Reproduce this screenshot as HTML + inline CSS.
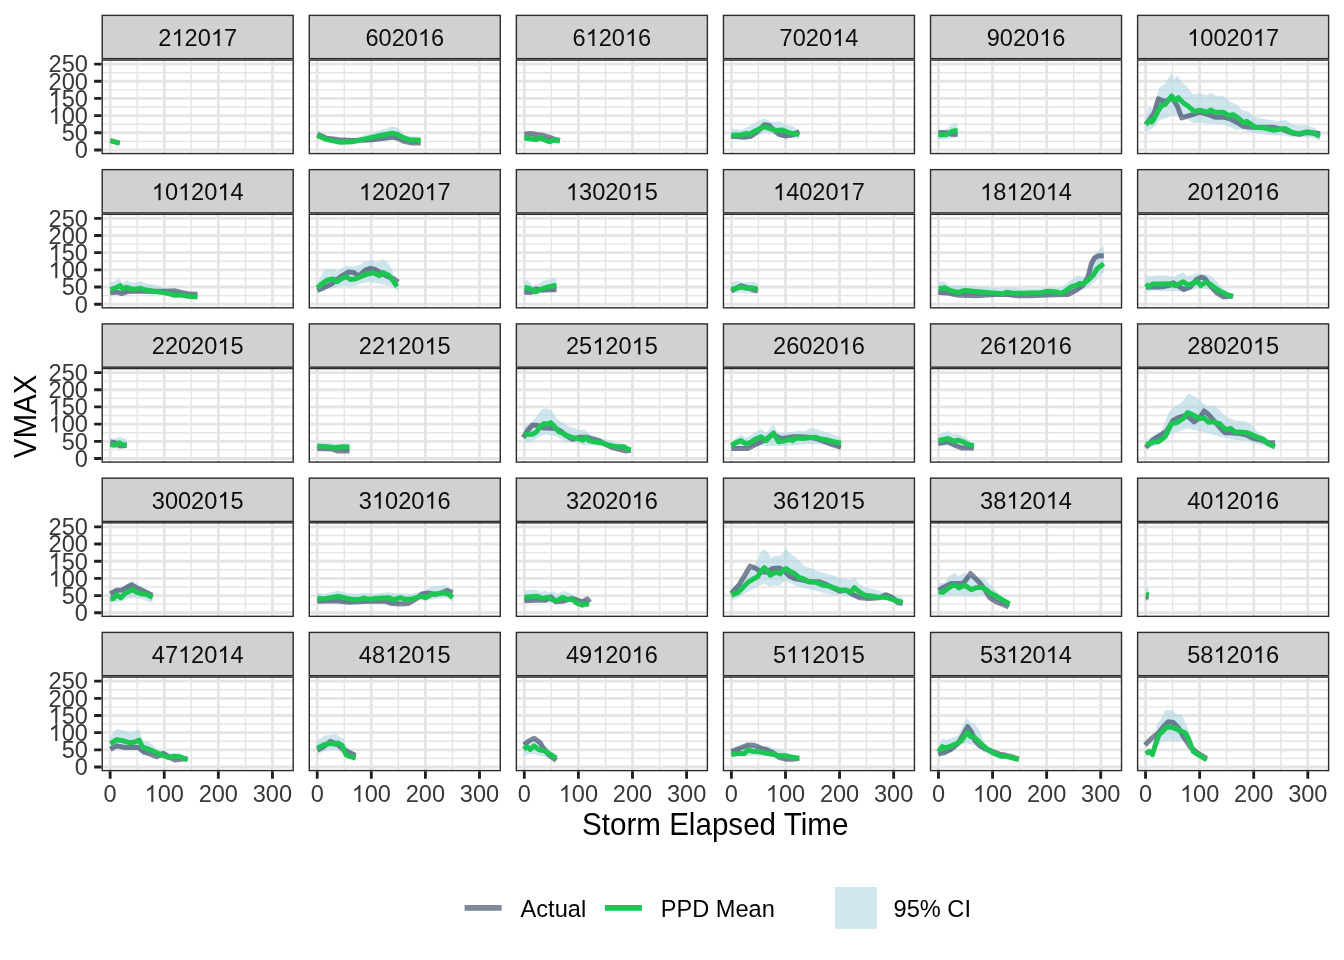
<!DOCTYPE html><html><head><meta charset="utf-8"><style>html,body{margin:0;padding:0;background:#fff;width:1344px;height:960px;overflow:hidden}svg{display:block;will-change:transform}text{font-family:"Liberation Sans", sans-serif}</style></head><body>
<svg width="1344" height="960" viewBox="0 0 1344 960">
<rect width="1344" height="960" fill="#fff"/>
<defs>
<clipPath id="p00"><rect x="101.5" y="59.35" width="192.42" height="94.92"/></clipPath>
<clipPath id="p01"><rect x="308.58" y="59.35" width="192.42" height="94.92"/></clipPath>
<clipPath id="p02"><rect x="515.66" y="59.35" width="192.42" height="94.92"/></clipPath>
<clipPath id="p03"><rect x="722.74" y="59.35" width="192.42" height="94.92"/></clipPath>
<clipPath id="p04"><rect x="929.82" y="59.35" width="192.42" height="94.92"/></clipPath>
<clipPath id="p05"><rect x="1136.9" y="59.35" width="192.42" height="94.92"/></clipPath>
<clipPath id="p10"><rect x="101.5" y="213.61" width="192.42" height="94.92"/></clipPath>
<clipPath id="p11"><rect x="308.58" y="213.61" width="192.42" height="94.92"/></clipPath>
<clipPath id="p12"><rect x="515.66" y="213.61" width="192.42" height="94.92"/></clipPath>
<clipPath id="p13"><rect x="722.74" y="213.61" width="192.42" height="94.92"/></clipPath>
<clipPath id="p14"><rect x="929.82" y="213.61" width="192.42" height="94.92"/></clipPath>
<clipPath id="p15"><rect x="1136.9" y="213.61" width="192.42" height="94.92"/></clipPath>
<clipPath id="p20"><rect x="101.5" y="367.87" width="192.42" height="94.92"/></clipPath>
<clipPath id="p21"><rect x="308.58" y="367.87" width="192.42" height="94.92"/></clipPath>
<clipPath id="p22"><rect x="515.66" y="367.87" width="192.42" height="94.92"/></clipPath>
<clipPath id="p23"><rect x="722.74" y="367.87" width="192.42" height="94.92"/></clipPath>
<clipPath id="p24"><rect x="929.82" y="367.87" width="192.42" height="94.92"/></clipPath>
<clipPath id="p25"><rect x="1136.9" y="367.87" width="192.42" height="94.92"/></clipPath>
<clipPath id="p30"><rect x="101.5" y="522.13" width="192.42" height="94.92"/></clipPath>
<clipPath id="p31"><rect x="308.58" y="522.13" width="192.42" height="94.92"/></clipPath>
<clipPath id="p32"><rect x="515.66" y="522.13" width="192.42" height="94.92"/></clipPath>
<clipPath id="p33"><rect x="722.74" y="522.13" width="192.42" height="94.92"/></clipPath>
<clipPath id="p34"><rect x="929.82" y="522.13" width="192.42" height="94.92"/></clipPath>
<clipPath id="p35"><rect x="1136.9" y="522.13" width="192.42" height="94.92"/></clipPath>
<clipPath id="p40"><rect x="101.5" y="676.39" width="192.42" height="94.92"/></clipPath>
<clipPath id="p41"><rect x="308.58" y="676.39" width="192.42" height="94.92"/></clipPath>
<clipPath id="p42"><rect x="515.66" y="676.39" width="192.42" height="94.92"/></clipPath>
<clipPath id="p43"><rect x="722.74" y="676.39" width="192.42" height="94.92"/></clipPath>
<clipPath id="p44"><rect x="929.82" y="676.39" width="192.42" height="94.92"/></clipPath>
<clipPath id="p45"><rect x="1136.9" y="676.39" width="192.42" height="94.92"/></clipPath>
</defs>
<g clip-path="url(#p00)">
<path d="M137.19 59.35V154.27M191.29 59.35V154.27M245.38 59.35V154.27M101.5 141.37H293.92M101.5 124.2H293.92M101.5 107.02H293.92M101.5 89.84H293.92M101.5 72.67H293.92" stroke="#E5E5E5" stroke-width="1.42" fill="none"/>
<path d="M110.15 59.35V154.27M164.24 59.35V154.27M218.33 59.35V154.27M272.42 59.35V154.27M101.5 149.96H293.92M101.5 132.78H293.92M101.5 115.61H293.92M101.5 98.43H293.92M101.5 81.26H293.92M101.5 64.08H293.92" stroke="#E5E5E5" stroke-width="2.84" fill="none"/>
<path d="M110.33 138.67 L119.67 141.17 L119.67 144.83 L110.33 142.33Z" fill="#AFD5E3" fill-opacity="0.6"/>
<path d="M110.33 140.67 L119.67 143.17" fill="none" stroke="#182749" stroke-opacity="0.55" stroke-width="5.0" stroke-linejoin="round" stroke-linecap="butt"/>
<path d="M110.33 140.67 L119.67 143.17" fill="none" stroke="#1DC653" stroke-width="5.0" stroke-linejoin="round" stroke-linecap="butt"/>
</g>
<rect x="102.21" y="60.06" width="191" height="93.5" fill="none" stroke="#2D2D2D" stroke-width="1.42"/>
<rect x="102.21" y="15.38" width="191" height="43.26" fill="#D1D1D1" stroke="#2D2D2D" stroke-width="1.42"/>
<text transform="translate(158.33 45.96) scale(1 1.04)" font-size="23.6" fill="#0D0D0D">2 20 7</text><path transform="translate(171.46 45.96) scale(0.011523 -0.011523)" d="M763 0h-180v1147q-65-62-170.5-124t-189.5-93v174q151 71 264 172t160 196h116z" fill="#0D0D0D"/><path transform="translate(210.84 45.96) scale(0.011523 -0.011523)" d="M763 0h-180v1147q-65-62-170.5-124t-189.5-93v174q151 71 264 172t160 196h116z" fill="#0D0D0D"/>
<g clip-path="url(#p01)">
<path d="M344.28 59.35V154.27M398.37 59.35V154.27M452.46 59.35V154.27M308.58 141.37H501M308.58 124.2H501M308.58 107.02H501M308.58 89.84H501M308.58 72.67H501" stroke="#E5E5E5" stroke-width="1.42" fill="none"/>
<path d="M317.23 59.35V154.27M371.32 59.35V154.27M425.41 59.35V154.27M479.5 59.35V154.27M308.58 149.96H501M308.58 132.78H501M308.58 115.61H501M308.58 98.43H501M308.58 81.26H501M308.58 64.08H501" stroke="#E5E5E5" stroke-width="2.84" fill="none"/>
<path d="M317.33 129.67 L327 136.33 L339.5 138.83 L355.33 138 L372 133 L392 126.33 L397.83 128 L405.33 135.5 L415.33 136.33 L420.67 137.17 L420.67 144.33 L410.33 143.83 L402 141.33 L392 139.67 L372 142.17 L352 144.33 L339.5 144.33 L317.33 138.83Z" fill="#AFD5E3" fill-opacity="0.6"/>
<path d="M317.33 134.33 L327 138.33 L339.5 139.67 L352 140.5 L372 139.67 L392 137.17 L397.83 138.33 L403.67 141.33 L412 143 L420.67 143" fill="none" stroke="#182749" stroke-opacity="0.55" stroke-width="5.0" stroke-linejoin="round" stroke-linecap="butt"/>
<path d="M317.33 135.5 L327 139.67 L339.5 142.17 L352 141.83 L365.33 138.83 L378.67 135.83 L392 133.33 L397 134.17 L402 137.17 L408.67 139.67 L420.67 140.17" fill="none" stroke="#1DC653" stroke-width="5.0" stroke-linejoin="round" stroke-linecap="butt"/>
</g>
<rect x="309.29" y="60.06" width="191" height="93.5" fill="none" stroke="#2D2D2D" stroke-width="1.42"/>
<rect x="309.29" y="15.38" width="191" height="43.26" fill="#D1D1D1" stroke="#2D2D2D" stroke-width="1.42"/>
<text transform="translate(365.41 45.96) scale(1 1.04)" font-size="23.6" fill="#0D0D0D">6020 6</text><path transform="translate(417.92 45.96) scale(0.011523 -0.011523)" d="M763 0h-180v1147q-65-62-170.5-124t-189.5-93v174q151 71 264 172t160 196h116z" fill="#0D0D0D"/>
<g clip-path="url(#p02)">
<path d="M551.36 59.35V154.27M605.45 59.35V154.27M659.54 59.35V154.27M515.66 141.37H708.08M515.66 124.2H708.08M515.66 107.02H708.08M515.66 89.84H708.08M515.66 72.67H708.08" stroke="#E5E5E5" stroke-width="1.42" fill="none"/>
<path d="M524.31 59.35V154.27M578.4 59.35V154.27M632.49 59.35V154.27M686.58 59.35V154.27M515.66 149.96H708.08M515.66 132.78H708.08M515.66 115.61H708.08M515.66 98.43H708.08M515.66 81.26H708.08M515.66 64.08H708.08" stroke="#E5E5E5" stroke-width="2.84" fill="none"/>
<path d="M524.33 136 L530.67 135.5 L542.33 136.33 L559.83 138.83 L559.83 143.83 L542.33 142.17 L524.33 141.33Z" fill="#AFD5E3" fill-opacity="0.6"/>
<path d="M524.33 134.33 L530.67 133.5 L537.33 134.67 L542.33 135.17 L549 137.17 L554 138.83 L559.83 140.5" fill="none" stroke="#182749" stroke-opacity="0.55" stroke-width="5.0" stroke-linejoin="round" stroke-linecap="butt"/>
<path d="M524.33 138 L530.67 138.83 L535.67 139.67 L539.83 138 L544.83 140 L549.83 141.83 L554 140 L559.83 140.83" fill="none" stroke="#1DC653" stroke-width="5.0" stroke-linejoin="round" stroke-linecap="butt"/>
</g>
<rect x="516.37" y="60.06" width="191" height="93.5" fill="none" stroke="#2D2D2D" stroke-width="1.42"/>
<rect x="516.37" y="15.38" width="191" height="43.26" fill="#D1D1D1" stroke="#2D2D2D" stroke-width="1.42"/>
<text transform="translate(572.49 45.96) scale(1 1.04)" font-size="23.6" fill="#0D0D0D">6 20 6</text><path transform="translate(585.62 45.96) scale(0.011523 -0.011523)" d="M763 0h-180v1147q-65-62-170.5-124t-189.5-93v174q151 71 264 172t160 196h116z" fill="#0D0D0D"/><path transform="translate(625 45.96) scale(0.011523 -0.011523)" d="M763 0h-180v1147q-65-62-170.5-124t-189.5-93v174q151 71 264 172t160 196h116z" fill="#0D0D0D"/>
<g clip-path="url(#p03)">
<path d="M758.43 59.35V154.27M812.52 59.35V154.27M866.62 59.35V154.27M722.74 141.37H915.16M722.74 124.2H915.16M722.74 107.02H915.16M722.74 89.84H915.16M722.74 72.67H915.16" stroke="#E5E5E5" stroke-width="1.42" fill="none"/>
<path d="M731.39 59.35V154.27M785.48 59.35V154.27M839.57 59.35V154.27M893.66 59.35V154.27M722.74 149.96H915.16M722.74 132.78H915.16M722.74 115.61H915.16M722.74 98.43H915.16M722.74 81.26H915.16M722.74 64.08H915.16" stroke="#E5E5E5" stroke-width="2.84" fill="none"/>
<path d="M731.33 128.83 L741 129.67 L749.33 126.33 L756 122.17 L764.33 118.5 L772.67 122.17 L779.33 121.33 L786 124.67 L792.67 126.33 L799.33 130.5 L799.33 139.33 L792.67 137.17 L782.67 138 L774.33 134.67 L766 132.17 L759.33 134.67 L749.33 139.33 L731.33 138.83Z" fill="#AFD5E3" fill-opacity="0.6"/>
<path d="M731.33 136.33 L744.33 137.17 L751 136.33 L757.67 131.33 L764.33 124.67 L769.33 125.5 L773.5 129.67 L779.33 134.67 L786 136 L792.67 135 L799.33 131.33" fill="none" stroke="#182749" stroke-opacity="0.55" stroke-width="5.0" stroke-linejoin="round" stroke-linecap="butt"/>
<path d="M731.33 135 L741 135 L746.83 133.5 L749.33 134.33 L756 130.5 L764.33 126.83 L771 128.83 L776 130.5 L782.67 130 L787.67 132.17 L792.67 133.83 L799.33 134.33" fill="none" stroke="#1DC653" stroke-width="5.0" stroke-linejoin="round" stroke-linecap="butt"/>
</g>
<rect x="723.45" y="60.06" width="191" height="93.5" fill="none" stroke="#2D2D2D" stroke-width="1.42"/>
<rect x="723.45" y="15.38" width="191" height="43.26" fill="#D1D1D1" stroke="#2D2D2D" stroke-width="1.42"/>
<text transform="translate(779.57 45.96) scale(1 1.04)" font-size="23.6" fill="#0D0D0D">7020 4</text><path transform="translate(832.08 45.96) scale(0.011523 -0.011523)" d="M763 0h-180v1147q-65-62-170.5-124t-189.5-93v174q151 71 264 172t160 196h116z" fill="#0D0D0D"/>
<g clip-path="url(#p04)">
<path d="M965.51 59.35V154.27M1019.61 59.35V154.27M1073.7 59.35V154.27M929.82 141.37H1122.24M929.82 124.2H1122.24M929.82 107.02H1122.24M929.82 89.84H1122.24M929.82 72.67H1122.24" stroke="#E5E5E5" stroke-width="1.42" fill="none"/>
<path d="M938.47 59.35V154.27M992.56 59.35V154.27M1046.65 59.35V154.27M1100.74 59.35V154.27M929.82 149.96H1122.24M929.82 132.78H1122.24M929.82 115.61H1122.24M929.82 98.43H1122.24M929.82 81.26H1122.24M929.82 64.08H1122.24" stroke="#E5E5E5" stroke-width="2.84" fill="none"/>
<path d="M938.33 129.67 L946.33 129.33 L953 123.83 L957.67 123 L957.67 137.17 L952.17 138 L946.33 139.33 L938.33 139.67Z" fill="#AFD5E3" fill-opacity="0.6"/>
<path d="M938.33 132.67 L946.33 132.67 L952.17 134.33 L957.67 134.33" fill="none" stroke="#182749" stroke-opacity="0.55" stroke-width="5.0" stroke-linejoin="round" stroke-linecap="butt"/>
<path d="M938.33 134.67 L946.33 134.67 L952.17 131.33 L957.67 130.5" fill="none" stroke="#1DC653" stroke-width="5.0" stroke-linejoin="round" stroke-linecap="butt"/>
</g>
<rect x="930.53" y="60.06" width="191" height="93.5" fill="none" stroke="#2D2D2D" stroke-width="1.42"/>
<rect x="930.53" y="15.38" width="191" height="43.26" fill="#D1D1D1" stroke="#2D2D2D" stroke-width="1.42"/>
<text transform="translate(986.65 45.96) scale(1 1.04)" font-size="23.6" fill="#0D0D0D">9020 6</text><path transform="translate(1039.16 45.96) scale(0.011523 -0.011523)" d="M763 0h-180v1147q-65-62-170.5-124t-189.5-93v174q151 71 264 172t160 196h116z" fill="#0D0D0D"/>
<g clip-path="url(#p05)">
<path d="M1172.6 59.35V154.27M1226.69 59.35V154.27M1280.78 59.35V154.27M1136.9 141.37H1329.32M1136.9 124.2H1329.32M1136.9 107.02H1329.32M1136.9 89.84H1329.32M1136.9 72.67H1329.32" stroke="#E5E5E5" stroke-width="1.42" fill="none"/>
<path d="M1145.55 59.35V154.27M1199.64 59.35V154.27M1253.73 59.35V154.27M1307.82 59.35V154.27M1136.9 149.96H1329.32M1136.9 132.78H1329.32M1136.9 115.61H1329.32M1136.9 98.43H1329.32M1136.9 81.26H1329.32M1136.9 64.08H1329.32" stroke="#E5E5E5" stroke-width="2.84" fill="none"/>
<path d="M1145.83 114.67 L1149.17 106.33 L1153.33 109.67 L1159.17 88 L1165 83.83 L1171.67 73 L1174.17 79.67 L1177.5 75.5 L1181.67 82.17 L1186.67 86.33 L1193.33 94.67 L1200 93 L1206.67 95.5 L1210.83 92.5 L1215 95.5 L1223.33 96.33 L1230 101.33 L1236.67 104.67 L1243.33 110.5 L1248.33 111.33 L1253.33 116.33 L1261.67 118.83 L1270 119.67 L1278.33 121.33 L1285 119.67 L1291.67 123.83 L1298.33 125.5 L1305 124.67 L1313.33 127.17 L1320 131.33 L1320 140.5 L1313.33 138 L1306.67 137.17 L1298.33 137.17 L1291.67 137.17 L1285 135.5 L1273.33 135.5 L1263.33 133.83 L1253.33 133 L1243.33 129.67 L1236.67 129.67 L1230 127.17 L1223.33 124.67 L1210 123.83 L1200 122.67 L1193.33 123 L1181.67 116.33 L1176.67 114.67 L1170 115.5 L1165 118.83 L1160 119.67 L1155 126.33 L1150 129.67 L1145.83 131.33Z" fill="#AFD5E3" fill-opacity="0.6"/>
<path d="M1145.83 124.67 L1150 118.83 L1154.17 113 L1158.33 98.83 L1161.67 100.5 L1165.83 101.33 L1170 98.83 L1173.33 99.67 L1177.5 106.33 L1181.67 118 L1186.67 116.33 L1193.33 114.33 L1200 112.17 L1208.33 114.67 L1215 117.17 L1223.33 117.17 L1230 118.83 L1236.67 122.17 L1243.33 126.33 L1251.67 127.17 L1261.67 127.17 L1273.33 127.17 L1283.33 129.67 L1291.67 133 L1300 134.17 L1306.67 132.67 L1313.33 133 L1320 133.83" fill="none" stroke="#182749" stroke-opacity="0.55" stroke-width="5.0" stroke-linejoin="round" stroke-linecap="butt"/>
<path d="M1145.83 124.33 L1149.17 120.5 L1151.67 122.17 L1154.17 118.83 L1158.33 110.5 L1161.67 105.5 L1165 104.67 L1168.33 100.5 L1171.67 96 L1175 100.5 L1178.33 97.67 L1182.5 102.17 L1188.33 106.33 L1194.17 111.33 L1200 110.17 L1206.67 112.17 L1210.83 110 L1215 112.17 L1223.33 112.17 L1228.33 115.5 L1233.33 114.67 L1238.33 118 L1243.33 122.67 L1246.67 121.33 L1255 127.17 L1265 128 L1273.33 130.17 L1285 128.5 L1291.67 132.17 L1298.33 133.83 L1306.67 131.83 L1313.33 133 L1320 136.33" fill="none" stroke="#1DC653" stroke-width="5.0" stroke-linejoin="round" stroke-linecap="butt"/>
</g>
<rect x="1137.61" y="60.06" width="191" height="93.5" fill="none" stroke="#2D2D2D" stroke-width="1.42"/>
<rect x="1137.61" y="15.38" width="191" height="43.26" fill="#D1D1D1" stroke="#2D2D2D" stroke-width="1.42"/>
<text transform="translate(1187.17 45.96) scale(1 1.04)" font-size="23.6" fill="#0D0D0D"> 0020 7</text><path transform="translate(1187.17 45.96) scale(0.011523 -0.011523)" d="M763 0h-180v1147q-65-62-170.5-124t-189.5-93v174q151 71 264 172t160 196h116z" fill="#0D0D0D"/><path transform="translate(1252.8 45.96) scale(0.011523 -0.011523)" d="M763 0h-180v1147q-65-62-170.5-124t-189.5-93v174q151 71 264 172t160 196h116z" fill="#0D0D0D"/>
<g clip-path="url(#p10)">
<path d="M137.19 213.61V308.53M191.29 213.61V308.53M245.38 213.61V308.53M101.5 295.63H293.92M101.5 278.46H293.92M101.5 261.28H293.92M101.5 244.1H293.92M101.5 226.93H293.92" stroke="#E5E5E5" stroke-width="1.42" fill="none"/>
<path d="M110.15 213.61V308.53M164.24 213.61V308.53M218.33 213.61V308.53M272.42 213.61V308.53M101.5 304.22H293.92M101.5 287.04H293.92M101.5 269.87H293.92M101.5 252.69H293.92M101.5 235.52H293.92M101.5 218.34H293.92" stroke="#E5E5E5" stroke-width="2.84" fill="none"/>
<path d="M110.33 282.83 L115 281.17 L119.17 278.67 L122.5 282.83 L126.67 280.33 L133.33 282.83 L140.83 281.17 L146.67 283.67 L153.33 284.5 L160 286.17 L166.67 288.67 L175 290.33 L185 292 L197.5 293.33 L197.5 298.33 L185 297.33 L175 296.17 L161.67 294.5 L145 293.67 L136.67 293.33 L128.33 294.5 L120 293.67 L110.33 295.33Z" fill="#AFD5E3" fill-opacity="0.6"/>
<path d="M110.33 292.83 L116.67 292 L121.67 293.67 L128.33 291.17 L136.67 291.17 L145 291.17 L155 291.17 L165 291.17 L175 290.83 L181.67 292.33 L188.33 293.67 L197.5 294.17" fill="none" stroke="#182749" stroke-opacity="0.55" stroke-width="5.0" stroke-linejoin="round" stroke-linecap="butt"/>
<path d="M110.33 289.5 L115 288.17 L120 285.67 L122.5 288.67 L126.67 287.33 L133.33 289.5 L140 288.17 L145 289.83 L153.33 291.17 L161.67 292.33 L168.33 293.67 L175 295.33 L180 294.83 L185 295.83 L191.67 296.67 L197.5 296.67" fill="none" stroke="#1DC653" stroke-width="5.0" stroke-linejoin="round" stroke-linecap="butt"/>
</g>
<rect x="102.21" y="214.32" width="191" height="93.5" fill="none" stroke="#2D2D2D" stroke-width="1.42"/>
<rect x="102.21" y="169.64" width="191" height="43.26" fill="#D1D1D1" stroke="#2D2D2D" stroke-width="1.42"/>
<text transform="translate(151.77 200.22) scale(1 1.04)" font-size="23.6" fill="#0D0D0D"> 0 20 4</text><path transform="translate(151.77 200.22) scale(0.011523 -0.011523)" d="M763 0h-180v1147q-65-62-170.5-124t-189.5-93v174q151 71 264 172t160 196h116z" fill="#0D0D0D"/><path transform="translate(178.02 200.22) scale(0.011523 -0.011523)" d="M763 0h-180v1147q-65-62-170.5-124t-189.5-93v174q151 71 264 172t160 196h116z" fill="#0D0D0D"/><path transform="translate(217.4 200.22) scale(0.011523 -0.011523)" d="M763 0h-180v1147q-65-62-170.5-124t-189.5-93v174q151 71 264 172t160 196h116z" fill="#0D0D0D"/>
<g clip-path="url(#p11)">
<path d="M344.28 213.61V308.53M398.37 213.61V308.53M452.46 213.61V308.53M308.58 295.63H501M308.58 278.46H501M308.58 261.28H501M308.58 244.1H501M308.58 226.93H501" stroke="#E5E5E5" stroke-width="1.42" fill="none"/>
<path d="M317.23 213.61V308.53M371.32 213.61V308.53M425.41 213.61V308.53M479.5 213.61V308.53M308.58 304.22H501M308.58 287.04H501M308.58 269.87H501M308.58 252.69H501M308.58 235.52H501M308.58 218.34H501" stroke="#E5E5E5" stroke-width="2.84" fill="none"/>
<path d="M317.33 283.67 L323.67 270.33 L328.67 269 L333.67 268.67 L337 271.17 L342 267.83 L347 265.67 L352 267 L358.67 265.33 L365.33 261.17 L372 260 L377 262 L382 259 L387 262 L391.17 267.83 L394.5 277 L398.33 287 L398.33 291.17 L392 286.17 L385.33 285 L377 283.33 L368.67 282 L360.33 283.67 L352 286.67 L343.67 285.33 L335.33 287.83 L327 288.67 L317.33 292Z" fill="#AFD5E3" fill-opacity="0.6"/>
<path d="M317.33 290.33 L323.67 287.83 L332 283.67 L340.33 277 L348.67 272 L353.67 272.5 L358.67 276.17 L365.33 270 L370.33 268.33 L375.33 269.5 L382 273.67 L388.67 277 L393.67 278.67 L398.33 282" fill="none" stroke="#182749" stroke-opacity="0.55" stroke-width="5.0" stroke-linejoin="round" stroke-linecap="butt"/>
<path d="M317.33 288.17 L321.17 284.5 L327 280 L333.67 279 L337 281.67 L342 278.33 L346.17 276.67 L350.33 279.5 L355.33 279 L362 276.17 L368.67 273.67 L373.67 272.83 L379.5 275.67 L382.83 272.5 L388.67 275.33 L392.83 280.33 L397 286.67" fill="none" stroke="#1DC653" stroke-width="5.0" stroke-linejoin="round" stroke-linecap="butt"/>
</g>
<rect x="309.29" y="214.32" width="191" height="93.5" fill="none" stroke="#2D2D2D" stroke-width="1.42"/>
<rect x="309.29" y="169.64" width="191" height="43.26" fill="#D1D1D1" stroke="#2D2D2D" stroke-width="1.42"/>
<text transform="translate(358.85 200.22) scale(1 1.04)" font-size="23.6" fill="#0D0D0D"> 2020 7</text><path transform="translate(358.85 200.22) scale(0.011523 -0.011523)" d="M763 0h-180v1147q-65-62-170.5-124t-189.5-93v174q151 71 264 172t160 196h116z" fill="#0D0D0D"/><path transform="translate(424.48 200.22) scale(0.011523 -0.011523)" d="M763 0h-180v1147q-65-62-170.5-124t-189.5-93v174q151 71 264 172t160 196h116z" fill="#0D0D0D"/>
<g clip-path="url(#p12)">
<path d="M551.36 213.61V308.53M605.45 213.61V308.53M659.54 213.61V308.53M515.66 295.63H708.08M515.66 278.46H708.08M515.66 261.28H708.08M515.66 244.1H708.08M515.66 226.93H708.08" stroke="#E5E5E5" stroke-width="1.42" fill="none"/>
<path d="M524.31 213.61V308.53M578.4 213.61V308.53M632.49 213.61V308.53M686.58 213.61V308.53M515.66 304.22H708.08M515.66 287.04H708.08M515.66 269.87H708.08M515.66 252.69H708.08M515.66 235.52H708.08M515.66 218.34H708.08" stroke="#E5E5E5" stroke-width="2.84" fill="none"/>
<path d="M524.33 282 L527.33 279.5 L532.33 285.33 L537.33 284.5 L544 280.33 L549 279.5 L554 277.83 L556.5 278.67 L556.5 291.67 L542.33 292.83 L534 295.33 L524.33 294.5Z" fill="#AFD5E3" fill-opacity="0.6"/>
<path d="M524.33 292.33 L530.67 292.33 L535.67 289 L542.33 290 L549 289.83 L556.5 289.83" fill="none" stroke="#182749" stroke-opacity="0.55" stroke-width="5.0" stroke-linejoin="round" stroke-linecap="butt"/>
<path d="M524.33 287.5 L529 288.33 L535.67 291.67 L542.33 288.67 L549 286.67 L556.5 285.33" fill="none" stroke="#1DC653" stroke-width="5.0" stroke-linejoin="round" stroke-linecap="butt"/>
</g>
<rect x="516.37" y="214.32" width="191" height="93.5" fill="none" stroke="#2D2D2D" stroke-width="1.42"/>
<rect x="516.37" y="169.64" width="191" height="43.26" fill="#D1D1D1" stroke="#2D2D2D" stroke-width="1.42"/>
<text transform="translate(565.93 200.22) scale(1 1.04)" font-size="23.6" fill="#0D0D0D"> 3020 5</text><path transform="translate(565.93 200.22) scale(0.011523 -0.011523)" d="M763 0h-180v1147q-65-62-170.5-124t-189.5-93v174q151 71 264 172t160 196h116z" fill="#0D0D0D"/><path transform="translate(631.56 200.22) scale(0.011523 -0.011523)" d="M763 0h-180v1147q-65-62-170.5-124t-189.5-93v174q151 71 264 172t160 196h116z" fill="#0D0D0D"/>
<g clip-path="url(#p13)">
<path d="M758.43 213.61V308.53M812.52 213.61V308.53M866.62 213.61V308.53M722.74 295.63H915.16M722.74 278.46H915.16M722.74 261.28H915.16M722.74 244.1H915.16M722.74 226.93H915.16" stroke="#E5E5E5" stroke-width="1.42" fill="none"/>
<path d="M731.39 213.61V308.53M785.48 213.61V308.53M839.57 213.61V308.53M893.66 213.61V308.53M722.74 304.22H915.16M722.74 287.04H915.16M722.74 269.87H915.16M722.74 252.69H915.16M722.74 235.52H915.16M722.74 218.34H915.16" stroke="#E5E5E5" stroke-width="2.84" fill="none"/>
<path d="M731.33 282.83 L736.83 280.33 L742.67 282.83 L749.33 281.67 L754.33 282 L757.67 283.67 L757.67 293.33 L749.33 293.67 L741 292.83 L731.33 292.83Z" fill="#AFD5E3" fill-opacity="0.6"/>
<path d="M731.33 291.17 L741 285.67 L749.33 288.33 L757.67 291.17" fill="none" stroke="#182749" stroke-opacity="0.55" stroke-width="5.0" stroke-linejoin="round" stroke-linecap="butt"/>
<path d="M731.33 289 L736 288.33 L741 287 L746 288.17 L751 287.83 L757.67 289" fill="none" stroke="#1DC653" stroke-width="5.0" stroke-linejoin="round" stroke-linecap="butt"/>
</g>
<rect x="723.45" y="214.32" width="191" height="93.5" fill="none" stroke="#2D2D2D" stroke-width="1.42"/>
<rect x="723.45" y="169.64" width="191" height="43.26" fill="#D1D1D1" stroke="#2D2D2D" stroke-width="1.42"/>
<text transform="translate(773.01 200.22) scale(1 1.04)" font-size="23.6" fill="#0D0D0D"> 4020 7</text><path transform="translate(773.01 200.22) scale(0.011523 -0.011523)" d="M763 0h-180v1147q-65-62-170.5-124t-189.5-93v174q151 71 264 172t160 196h116z" fill="#0D0D0D"/><path transform="translate(838.64 200.22) scale(0.011523 -0.011523)" d="M763 0h-180v1147q-65-62-170.5-124t-189.5-93v174q151 71 264 172t160 196h116z" fill="#0D0D0D"/>
<g clip-path="url(#p14)">
<path d="M965.51 213.61V308.53M1019.61 213.61V308.53M1073.7 213.61V308.53M929.82 295.63H1122.24M929.82 278.46H1122.24M929.82 261.28H1122.24M929.82 244.1H1122.24M929.82 226.93H1122.24" stroke="#E5E5E5" stroke-width="1.42" fill="none"/>
<path d="M938.47 213.61V308.53M992.56 213.61V308.53M1046.65 213.61V308.53M1100.74 213.61V308.53M929.82 304.22H1122.24M929.82 287.04H1122.24M929.82 269.87H1122.24M929.82 252.69H1122.24M929.82 235.52H1122.24M929.82 218.34H1122.24" stroke="#E5E5E5" stroke-width="2.84" fill="none"/>
<path d="M938.33 282.33 L943.83 281.17 L946.83 283.5 L948.67 285.33 L964.67 285.67 L988.5 287.33 L1003.5 288.33 L1006.33 287.17 L1014.67 288 L1023 288.67 L1039.67 288.67 L1048 287 L1056.33 288 L1061.33 287.5 L1068 282 L1073 278.67 L1078 275.33 L1083 277 L1088 272 L1091.33 258.67 L1096.33 252 L1100.5 249.5 L1103 246.17 L1103.83 246.17 L1103.83 272.83 L1099.67 275.33 L1096.33 280.33 L1089.67 286.17 L1083 289.5 L1076.33 291.17 L1069.67 293.67 L1061.33 295.33 L1048 295.33 L1031.33 296.17 L1014.67 297 L1003 297 L989.67 296.17 L973 295.33 L959.67 295.33 L948 295 L938.33 294.5Z" fill="#AFD5E3" fill-opacity="0.6"/>
<path d="M938.33 292.5 L948 293 L958.83 295.33 L976.33 295.67 L994.67 294.5 L1006.33 294.33 L1016.33 295.67 L1031.33 295.67 L1048 295 L1068 294.5 L1076.33 290.33 L1083 285.33 L1088 277 L1091.33 263.67 L1094.67 257.83 L1098.83 255.83 L1103.83 255.83" fill="none" stroke="#182749" stroke-opacity="0.55" stroke-width="5.0" stroke-linejoin="round" stroke-linecap="butt"/>
<path d="M938.33 288.67 L944.67 287.83 L949.67 290.33 L958 292.5 L964.67 290.33 L973 291.17 L989.67 292.83 L1003 293.67 L1006.33 292.33 L1013 293.33 L1023 293.33 L1039.67 292.83 L1048 291.17 L1056.33 292 L1061.33 293.33 L1066.33 290.33 L1071.33 286.67 L1076.33 285.33 L1079.67 283.33 L1083 284 L1088 280.33 L1093 275.33 L1097.17 268.67 L1100.5 266.17 L1103.83 263.67" fill="none" stroke="#1DC653" stroke-width="5.0" stroke-linejoin="round" stroke-linecap="butt"/>
</g>
<rect x="930.53" y="214.32" width="191" height="93.5" fill="none" stroke="#2D2D2D" stroke-width="1.42"/>
<rect x="930.53" y="169.64" width="191" height="43.26" fill="#D1D1D1" stroke="#2D2D2D" stroke-width="1.42"/>
<text transform="translate(980.09 200.22) scale(1 1.04)" font-size="23.6" fill="#0D0D0D"> 8 20 4</text><path transform="translate(980.09 200.22) scale(0.011523 -0.011523)" d="M763 0h-180v1147q-65-62-170.5-124t-189.5-93v174q151 71 264 172t160 196h116z" fill="#0D0D0D"/><path transform="translate(1006.34 200.22) scale(0.011523 -0.011523)" d="M763 0h-180v1147q-65-62-170.5-124t-189.5-93v174q151 71 264 172t160 196h116z" fill="#0D0D0D"/><path transform="translate(1045.72 200.22) scale(0.011523 -0.011523)" d="M763 0h-180v1147q-65-62-170.5-124t-189.5-93v174q151 71 264 172t160 196h116z" fill="#0D0D0D"/>
<g clip-path="url(#p15)">
<path d="M1172.6 213.61V308.53M1226.69 213.61V308.53M1280.78 213.61V308.53M1136.9 295.63H1329.32M1136.9 278.46H1329.32M1136.9 261.28H1329.32M1136.9 244.1H1329.32M1136.9 226.93H1329.32" stroke="#E5E5E5" stroke-width="1.42" fill="none"/>
<path d="M1145.55 213.61V308.53M1199.64 213.61V308.53M1253.73 213.61V308.53M1307.82 213.61V308.53M1136.9 304.22H1329.32M1136.9 287.04H1329.32M1136.9 269.87H1329.32M1136.9 252.69H1329.32M1136.9 235.52H1329.32M1136.9 218.34H1329.32" stroke="#E5E5E5" stroke-width="2.84" fill="none"/>
<path d="M1145.83 274.5 L1150 276.17 L1156.67 275.33 L1166.67 275.33 L1173.33 277 L1180 273.67 L1183.33 272.33 L1186.67 276.17 L1193.33 274.5 L1197.5 272.83 L1201.67 276.17 L1205 273.67 L1211.67 276.17 L1216.67 281.17 L1223.33 288.67 L1233 294.5 L1233 298.33 L1223.33 297.83 L1216.67 293.67 L1210 289.5 L1203.33 288.67 L1196.67 288.67 L1190 290.33 L1183.33 292 L1176.67 291.17 L1170 291.17 L1163.33 291.17 L1153.33 290.33 L1145.83 292Z" fill="#AFD5E3" fill-opacity="0.6"/>
<path d="M1145.83 287 L1153.33 287 L1163.33 286.67 L1170 285.33 L1173.33 282.83 L1178.33 286.17 L1184.17 289.5 L1190 287 L1196.67 279.5 L1201.67 277 L1205 278.67 L1210 285.33 L1216.67 292.83 L1223.33 297 L1233 295.83" fill="none" stroke="#182749" stroke-opacity="0.55" stroke-width="5.0" stroke-linejoin="round" stroke-linecap="butt"/>
<path d="M1145.83 284 L1149.17 287 L1152.5 284 L1161.67 284 L1170 283.67 L1175 285.67 L1183.33 281.67 L1187.5 285 L1193.33 283.33 L1197.5 281.17 L1200.83 285.67 L1205 282.33 L1210 284 L1215 287.83 L1220 291.17 L1226.67 294.5 L1233 296.67" fill="none" stroke="#1DC653" stroke-width="5.0" stroke-linejoin="round" stroke-linecap="butt"/>
</g>
<rect x="1137.61" y="214.32" width="191" height="93.5" fill="none" stroke="#2D2D2D" stroke-width="1.42"/>
<rect x="1137.61" y="169.64" width="191" height="43.26" fill="#D1D1D1" stroke="#2D2D2D" stroke-width="1.42"/>
<text transform="translate(1187.17 200.22) scale(1 1.04)" font-size="23.6" fill="#0D0D0D">20 20 6</text><path transform="translate(1213.42 200.22) scale(0.011523 -0.011523)" d="M763 0h-180v1147q-65-62-170.5-124t-189.5-93v174q151 71 264 172t160 196h116z" fill="#0D0D0D"/><path transform="translate(1252.8 200.22) scale(0.011523 -0.011523)" d="M763 0h-180v1147q-65-62-170.5-124t-189.5-93v174q151 71 264 172t160 196h116z" fill="#0D0D0D"/>
<g clip-path="url(#p20)">
<path d="M137.19 367.87V462.79M191.29 367.87V462.79M245.38 367.87V462.79M101.5 449.89H293.92M101.5 432.72H293.92M101.5 415.54H293.92M101.5 398.36H293.92M101.5 381.19H293.92" stroke="#E5E5E5" stroke-width="1.42" fill="none"/>
<path d="M110.15 367.87V462.79M164.24 367.87V462.79M218.33 367.87V462.79M272.42 367.87V462.79M101.5 458.48H293.92M101.5 441.3H293.92M101.5 424.13H293.92M101.5 406.95H293.92M101.5 389.78H293.92M101.5 372.6H293.92" stroke="#E5E5E5" stroke-width="2.84" fill="none"/>
<path d="M110.33 440.17 L119.17 436.83 L126.67 439.33 L126.67 448.5 L110.33 448.5Z" fill="#AFD5E3" fill-opacity="0.6"/>
<path d="M110.33 441.83 L115 442.67 L120 446 L126.67 445.17" fill="none" stroke="#182749" stroke-opacity="0.55" stroke-width="5.0" stroke-linejoin="round" stroke-linecap="butt"/>
<path d="M110.33 444.33 L115 445.17 L119.17 442.67 L122.5 444.67 L126.67 444.83" fill="none" stroke="#1DC653" stroke-width="5.0" stroke-linejoin="round" stroke-linecap="butt"/>
</g>
<rect x="102.21" y="368.58" width="191" height="93.5" fill="none" stroke="#2D2D2D" stroke-width="1.42"/>
<rect x="102.21" y="323.9" width="191" height="43.26" fill="#D1D1D1" stroke="#2D2D2D" stroke-width="1.42"/>
<text transform="translate(151.77 354.48) scale(1 1.04)" font-size="23.6" fill="#0D0D0D">22020 5</text><path transform="translate(217.4 354.48) scale(0.011523 -0.011523)" d="M763 0h-180v1147q-65-62-170.5-124t-189.5-93v174q151 71 264 172t160 196h116z" fill="#0D0D0D"/>
<g clip-path="url(#p21)">
<path d="M344.28 367.87V462.79M398.37 367.87V462.79M452.46 367.87V462.79M308.58 449.89H501M308.58 432.72H501M308.58 415.54H501M308.58 398.36H501M308.58 381.19H501" stroke="#E5E5E5" stroke-width="1.42" fill="none"/>
<path d="M317.23 367.87V462.79M371.32 367.87V462.79M425.41 367.87V462.79M479.5 367.87V462.79M308.58 458.48H501M308.58 441.3H501M308.58 424.13H501M308.58 406.95H501M308.58 389.78H501M308.58 372.6H501" stroke="#E5E5E5" stroke-width="2.84" fill="none"/>
<path d="M317.33 442.33 L327 442.67 L335.33 443.5 L349.5 443 L349.5 451.83 L317.33 449.33Z" fill="#AFD5E3" fill-opacity="0.6"/>
<path d="M317.33 448.5 L332 449 L337 451 L349.5 451" fill="none" stroke="#182749" stroke-opacity="0.55" stroke-width="5.0" stroke-linejoin="round" stroke-linecap="butt"/>
<path d="M317.33 446.33 L327 446.83 L335.33 447.67 L342 446.83 L349.5 447.33" fill="none" stroke="#1DC653" stroke-width="5.0" stroke-linejoin="round" stroke-linecap="butt"/>
</g>
<rect x="309.29" y="368.58" width="191" height="93.5" fill="none" stroke="#2D2D2D" stroke-width="1.42"/>
<rect x="309.29" y="323.9" width="191" height="43.26" fill="#D1D1D1" stroke="#2D2D2D" stroke-width="1.42"/>
<text transform="translate(358.85 354.48) scale(1 1.04)" font-size="23.6" fill="#0D0D0D">22 20 5</text><path transform="translate(385.1 354.48) scale(0.011523 -0.011523)" d="M763 0h-180v1147q-65-62-170.5-124t-189.5-93v174q151 71 264 172t160 196h116z" fill="#0D0D0D"/><path transform="translate(424.48 354.48) scale(0.011523 -0.011523)" d="M763 0h-180v1147q-65-62-170.5-124t-189.5-93v174q151 71 264 172t160 196h116z" fill="#0D0D0D"/>
<g clip-path="url(#p22)">
<path d="M551.36 367.87V462.79M605.45 367.87V462.79M659.54 367.87V462.79M515.66 449.89H708.08M515.66 432.72H708.08M515.66 415.54H708.08M515.66 398.36H708.08M515.66 381.19H708.08" stroke="#E5E5E5" stroke-width="1.42" fill="none"/>
<path d="M524.31 367.87V462.79M578.4 367.87V462.79M632.49 367.87V462.79M686.58 367.87V462.79M515.66 458.48H708.08M515.66 441.3H708.08M515.66 424.13H708.08M515.66 406.95H708.08M515.66 389.78H708.08M515.66 372.6H708.08" stroke="#E5E5E5" stroke-width="2.84" fill="none"/>
<path d="M524.33 426 L530.67 422.67 L537.33 416 L541.5 409.33 L547.33 408.5 L552.33 411 L555.67 416.83 L559 421 L562.33 421.83 L567.33 426 L574 427.67 L579 430.17 L584.83 429.33 L589 434.33 L595.67 436 L602.33 438.5 L609 440.17 L617.33 442.67 L625.67 444.33 L630.67 447.67 L630.67 451.83 L619 449.33 L609 447.67 L602.33 446 L592.33 445.17 L584 445.17 L579 443.5 L572.33 442.33 L565.67 442.67 L557.33 436.83 L550.67 435.17 L545.67 434.33 L539 436.83 L532.33 441.83 L524.33 441.83Z" fill="#AFD5E3" fill-opacity="0.6"/>
<path d="M523.17 437.67 L527.33 431 L532.33 425.17 L536.5 425.17 L542.33 427.67 L550.67 428.17 L555.67 428.5 L560.67 431 L565.67 435.17 L572.33 439.33 L579 437.33 L587.33 437.33 L592.33 439 L599 440.67 L605.67 444.33 L612.33 447.67 L619 449.33 L625.67 451 L630.67 450.17" fill="none" stroke="#182749" stroke-opacity="0.55" stroke-width="5.0" stroke-linejoin="round" stroke-linecap="butt"/>
<path d="M524.33 435.17 L527.33 434.33 L532.33 434.33 L536.5 431.83 L540.67 426 L544 423.5 L547.33 424.33 L550.67 422.67 L554.83 426.83 L559 431.83 L562.33 433 L565.67 435.17 L570.67 436.83 L575.67 438.17 L580.67 439.33 L583.17 440.17 L585.67 437.33 L589 440.67 L594 441.83 L600.67 442.67 L609 445.17 L617.33 446.83 L624 446.83 L627.33 448.83 L630.67 450.17" fill="none" stroke="#1DC653" stroke-width="5.0" stroke-linejoin="round" stroke-linecap="butt"/>
</g>
<rect x="516.37" y="368.58" width="191" height="93.5" fill="none" stroke="#2D2D2D" stroke-width="1.42"/>
<rect x="516.37" y="323.9" width="191" height="43.26" fill="#D1D1D1" stroke="#2D2D2D" stroke-width="1.42"/>
<text transform="translate(565.93 354.48) scale(1 1.04)" font-size="23.6" fill="#0D0D0D">25 20 5</text><path transform="translate(592.18 354.48) scale(0.011523 -0.011523)" d="M763 0h-180v1147q-65-62-170.5-124t-189.5-93v174q151 71 264 172t160 196h116z" fill="#0D0D0D"/><path transform="translate(631.56 354.48) scale(0.011523 -0.011523)" d="M763 0h-180v1147q-65-62-170.5-124t-189.5-93v174q151 71 264 172t160 196h116z" fill="#0D0D0D"/>
<g clip-path="url(#p23)">
<path d="M758.43 367.87V462.79M812.52 367.87V462.79M866.62 367.87V462.79M722.74 449.89H915.16M722.74 432.72H915.16M722.74 415.54H915.16M722.74 398.36H915.16M722.74 381.19H915.16" stroke="#E5E5E5" stroke-width="1.42" fill="none"/>
<path d="M731.39 367.87V462.79M785.48 367.87V462.79M839.57 367.87V462.79M893.66 367.87V462.79M722.74 458.48H915.16M722.74 441.3H915.16M722.74 424.13H915.16M722.74 406.95H915.16M722.74 389.78H915.16M722.74 372.6H915.16" stroke="#E5E5E5" stroke-width="2.84" fill="none"/>
<path d="M731.33 441 L741 434.33 L746 437.67 L752.67 434.33 L761 428.5 L766 432.67 L773.5 424 L777.67 432.67 L786 432.67 L792.67 431.83 L797.67 430.67 L804.33 431 L811 428 L817.67 429.33 L824.33 431.83 L832.67 434.33 L841 437.67 L841 447.67 L829.33 446 L819.33 444.33 L809.33 444 L796 445.17 L786 446 L774.33 446 L766 446 L757.67 445.17 L749.33 447.67 L731.33 448Z" fill="#AFD5E3" fill-opacity="0.6"/>
<path d="M731.33 448.5 L747.67 448.5 L757.67 443.5 L766 439.33 L772.67 434.33 L776 436 L781 438.5 L787.67 437.67 L792.67 436.83 L799.33 436.83 L809.33 437.33 L816 438.5 L822.67 441 L829.33 443.5 L841 447.33" fill="none" stroke="#182749" stroke-opacity="0.55" stroke-width="5.0" stroke-linejoin="round" stroke-linecap="butt"/>
<path d="M731.33 445.67 L736 442.67 L741 440.67 L745.17 443.5 L750.17 442.67 L755.17 439.33 L761 436.83 L766 440.67 L773.5 433 L778.5 441.83 L784.33 441 L789.33 439.33 L792.67 440.67 L796 438 L802.67 438.5 L809.33 437.67 L816 437.33 L821 439 L826 439.67 L832.67 441.33 L841 443.17" fill="none" stroke="#1DC653" stroke-width="5.0" stroke-linejoin="round" stroke-linecap="butt"/>
</g>
<rect x="723.45" y="368.58" width="191" height="93.5" fill="none" stroke="#2D2D2D" stroke-width="1.42"/>
<rect x="723.45" y="323.9" width="191" height="43.26" fill="#D1D1D1" stroke="#2D2D2D" stroke-width="1.42"/>
<text transform="translate(773.01 354.48) scale(1 1.04)" font-size="23.6" fill="#0D0D0D">26020 6</text><path transform="translate(838.64 354.48) scale(0.011523 -0.011523)" d="M763 0h-180v1147q-65-62-170.5-124t-189.5-93v174q151 71 264 172t160 196h116z" fill="#0D0D0D"/>
<g clip-path="url(#p24)">
<path d="M965.51 367.87V462.79M1019.61 367.87V462.79M1073.7 367.87V462.79M929.82 449.89H1122.24M929.82 432.72H1122.24M929.82 415.54H1122.24M929.82 398.36H1122.24M929.82 381.19H1122.24" stroke="#E5E5E5" stroke-width="1.42" fill="none"/>
<path d="M938.47 367.87V462.79M992.56 367.87V462.79M1046.65 367.87V462.79M1100.74 367.87V462.79M929.82 458.48H1122.24M929.82 441.3H1122.24M929.82 424.13H1122.24M929.82 406.95H1122.24M929.82 389.78H1122.24M929.82 372.6H1122.24" stroke="#E5E5E5" stroke-width="2.84" fill="none"/>
<path d="M938.33 434.33 L948 430.67 L953 434.33 L958 434 L964.67 436.83 L969.67 441 L973.83 443.5 L973.83 449.33 L964.67 448.5 L956.33 447.67 L948 445.17 L938.33 446Z" fill="#AFD5E3" fill-opacity="0.6"/>
<path d="M938.33 443.5 L948 441.83 L954.67 445.17 L961.33 448 L968 447.67 L973.83 448.5" fill="none" stroke="#182749" stroke-opacity="0.55" stroke-width="5.0" stroke-linejoin="round" stroke-linecap="butt"/>
<path d="M938.33 440.67 L948 438.5 L953.83 441.33 L958 440.17 L963 441.83 L968 444.33 L973.83 446" fill="none" stroke="#1DC653" stroke-width="5.0" stroke-linejoin="round" stroke-linecap="butt"/>
</g>
<rect x="930.53" y="368.58" width="191" height="93.5" fill="none" stroke="#2D2D2D" stroke-width="1.42"/>
<rect x="930.53" y="323.9" width="191" height="43.26" fill="#D1D1D1" stroke="#2D2D2D" stroke-width="1.42"/>
<text transform="translate(980.09 354.48) scale(1 1.04)" font-size="23.6" fill="#0D0D0D">26 20 6</text><path transform="translate(1006.34 354.48) scale(0.011523 -0.011523)" d="M763 0h-180v1147q-65-62-170.5-124t-189.5-93v174q151 71 264 172t160 196h116z" fill="#0D0D0D"/><path transform="translate(1045.72 354.48) scale(0.011523 -0.011523)" d="M763 0h-180v1147q-65-62-170.5-124t-189.5-93v174q151 71 264 172t160 196h116z" fill="#0D0D0D"/>
<g clip-path="url(#p25)">
<path d="M1172.6 367.87V462.79M1226.69 367.87V462.79M1280.78 367.87V462.79M1136.9 449.89H1329.32M1136.9 432.72H1329.32M1136.9 415.54H1329.32M1136.9 398.36H1329.32M1136.9 381.19H1329.32" stroke="#E5E5E5" stroke-width="1.42" fill="none"/>
<path d="M1145.55 367.87V462.79M1199.64 367.87V462.79M1253.73 367.87V462.79M1307.82 367.87V462.79M1136.9 458.48H1329.32M1136.9 441.3H1329.32M1136.9 424.13H1329.32M1136.9 406.95H1329.32M1136.9 389.78H1329.32M1136.9 372.6H1329.32" stroke="#E5E5E5" stroke-width="2.84" fill="none"/>
<path d="M1145.83 440.17 L1153.33 436 L1161.67 431 L1168.33 412.67 L1175 406 L1181.67 402.67 L1188.33 393.5 L1195 396.83 L1201.67 401.83 L1206.67 406 L1213.33 406 L1218.33 408.5 L1223.33 414.33 L1230 418.5 L1236.67 421 L1245 421 L1251.67 425.17 L1256.67 431 L1263.33 435.17 L1270 441 L1275 444.33 L1275 450.17 L1270 447.67 L1261.67 445.17 L1253.33 442.67 L1246.67 441 L1236.67 440.17 L1228.33 438.5 L1220 436.83 L1211.67 434.33 L1203.33 431.83 L1195 430.17 L1186.67 428.5 L1178.33 431.83 L1170 434.33 L1161.67 442.67 L1153.33 446.83 L1145.83 448.5Z" fill="#AFD5E3" fill-opacity="0.6"/>
<path d="M1145.83 447.67 L1153.33 439.33 L1161.67 434.33 L1166.67 431 L1173.33 420.17 L1178.33 417.67 L1183.33 416 L1188.33 416.83 L1194.17 421.83 L1200 417.67 L1204.17 411 L1208.33 414.33 L1213.33 420.17 L1220 427.67 L1225 432.67 L1230 432.67 L1240 433.5 L1246.67 435.17 L1253.33 438.5 L1261.67 440.17 L1268.33 442.67 L1275 442.67" fill="none" stroke="#182749" stroke-opacity="0.55" stroke-width="5.0" stroke-linejoin="round" stroke-linecap="butt"/>
<path d="M1145.83 444.33 L1150 443.5 L1154.17 441.83 L1158.33 441.83 L1165 436.83 L1171.67 423.5 L1176.67 422.67 L1183.33 418.5 L1187.5 412.67 L1193.33 415.17 L1200 418.5 L1204.17 418 L1208.33 422.33 L1213.33 421.83 L1220 424 L1225 429.33 L1228.33 429 L1230.83 428.5 L1235 431.83 L1243.33 432.33 L1248.33 433 L1253.33 435.17 L1258.33 437.67 L1263.33 439.33 L1268.33 443.83 L1275 446.83" fill="none" stroke="#1DC653" stroke-width="5.0" stroke-linejoin="round" stroke-linecap="butt"/>
</g>
<rect x="1137.61" y="368.58" width="191" height="93.5" fill="none" stroke="#2D2D2D" stroke-width="1.42"/>
<rect x="1137.61" y="323.9" width="191" height="43.26" fill="#D1D1D1" stroke="#2D2D2D" stroke-width="1.42"/>
<text transform="translate(1187.17 354.48) scale(1 1.04)" font-size="23.6" fill="#0D0D0D">28020 5</text><path transform="translate(1252.8 354.48) scale(0.011523 -0.011523)" d="M763 0h-180v1147q-65-62-170.5-124t-189.5-93v174q151 71 264 172t160 196h116z" fill="#0D0D0D"/>
<g clip-path="url(#p30)">
<path d="M137.19 522.13V617.05M191.29 522.13V617.05M245.38 522.13V617.05M101.5 604.15H293.92M101.5 586.98H293.92M101.5 569.8H293.92M101.5 552.62H293.92M101.5 535.45H293.92" stroke="#E5E5E5" stroke-width="1.42" fill="none"/>
<path d="M110.15 522.13V617.05M164.24 522.13V617.05M218.33 522.13V617.05M272.42 522.13V617.05M101.5 612.74H293.92M101.5 595.56H293.92M101.5 578.39H293.92M101.5 561.21H293.92M101.5 544.04H293.92M101.5 526.86H293.92" stroke="#E5E5E5" stroke-width="2.84" fill="none"/>
<path d="M110.33 591.83 L116.67 587.67 L121.67 587.67 L127.5 584.33 L132.5 580.17 L136.67 583.5 L141.67 586.83 L146.67 589.33 L152.5 593.5 L152.5 602.67 L141.67 599.33 L135 597.67 L128.33 598.5 L120 601.83 L110.33 602.67Z" fill="#AFD5E3" fill-opacity="0.6"/>
<path d="M110.33 594 L116.67 590.17 L121.67 590.17 L126.67 587.33 L131.67 584.83 L135.83 587.67 L140 589.33 L145 591.83 L152.5 595.17" fill="none" stroke="#182749" stroke-opacity="0.55" stroke-width="5.0" stroke-linejoin="round" stroke-linecap="butt"/>
<path d="M110.33 598.5 L113.33 598.5 L116.67 594.67 L120.83 597.67 L125 593.5 L128.33 591.83 L132.5 589.33 L136.67 592.33 L141.67 594 L146.67 594.33 L152.5 597.67" fill="none" stroke="#1DC653" stroke-width="5.0" stroke-linejoin="round" stroke-linecap="butt"/>
</g>
<rect x="102.21" y="522.84" width="191" height="93.5" fill="none" stroke="#2D2D2D" stroke-width="1.42"/>
<rect x="102.21" y="478.16" width="191" height="43.26" fill="#D1D1D1" stroke="#2D2D2D" stroke-width="1.42"/>
<text transform="translate(151.77 508.74) scale(1 1.04)" font-size="23.6" fill="#0D0D0D">30020 5</text><path transform="translate(217.4 508.74) scale(0.011523 -0.011523)" d="M763 0h-180v1147q-65-62-170.5-124t-189.5-93v174q151 71 264 172t160 196h116z" fill="#0D0D0D"/>
<g clip-path="url(#p31)">
<path d="M344.28 522.13V617.05M398.37 522.13V617.05M452.46 522.13V617.05M308.58 604.15H501M308.58 586.98H501M308.58 569.8H501M308.58 552.62H501M308.58 535.45H501" stroke="#E5E5E5" stroke-width="1.42" fill="none"/>
<path d="M317.23 522.13V617.05M371.32 522.13V617.05M425.41 522.13V617.05M479.5 522.13V617.05M308.58 612.74H501M308.58 595.56H501M308.58 578.39H501M308.58 561.21H501M308.58 544.04H501M308.58 526.86H501" stroke="#E5E5E5" stroke-width="2.84" fill="none"/>
<path d="M317.33 592.67 L323.67 594 L332 591.83 L338.67 590.67 L347 593 L355.33 594 L363.67 592.67 L372 594 L382 592.67 L388.67 592.33 L395.33 593.5 L402 593 L410.33 594.33 L418.67 592.33 L425.33 590.17 L432 586 L438.67 585.67 L445.33 584.67 L448.67 587.67 L452.83 594.33 L452.83 602.33 L447 597.67 L438.67 598.5 L428.67 600.17 L418.67 600.17 L408.67 601.83 L398.67 603.5 L385.33 603.5 L368.67 603 L352 603.5 L335.33 602.67 L317.33 603.5Z" fill="#AFD5E3" fill-opacity="0.6"/>
<path d="M317.33 601.33 L335.33 600.67 L348.67 602.33 L368.67 601.33 L385.33 601.33 L392 603.5 L402 604 L408.67 603.5 L415.33 599.33 L422 594 L428.67 593 L435.33 594.33 L442 592.67 L447 590.5 L452.83 592.33" fill="none" stroke="#182749" stroke-opacity="0.55" stroke-width="5.0" stroke-linejoin="round" stroke-linecap="butt"/>
<path d="M317.33 598 L323.67 599 L330.33 597.67 L338.67 596.33 L345.33 598 L352 599.33 L358.67 599.67 L363.67 598 L368.67 599.33 L375.33 598.5 L382 598 L388.67 597.67 L393.67 599.67 L400.33 597.67 L405.33 599.33 L410.33 599.33 L417 597.33 L422 596.33 L425.33 597.67 L432 594.33 L438.67 593.67 L445.33 593 L448.67 594.33 L452.83 597.67" fill="none" stroke="#1DC653" stroke-width="5.0" stroke-linejoin="round" stroke-linecap="butt"/>
</g>
<rect x="309.29" y="522.84" width="191" height="93.5" fill="none" stroke="#2D2D2D" stroke-width="1.42"/>
<rect x="309.29" y="478.16" width="191" height="43.26" fill="#D1D1D1" stroke="#2D2D2D" stroke-width="1.42"/>
<text transform="translate(358.85 508.74) scale(1 1.04)" font-size="23.6" fill="#0D0D0D">3 020 6</text><path transform="translate(371.98 508.74) scale(0.011523 -0.011523)" d="M763 0h-180v1147q-65-62-170.5-124t-189.5-93v174q151 71 264 172t160 196h116z" fill="#0D0D0D"/><path transform="translate(424.48 508.74) scale(0.011523 -0.011523)" d="M763 0h-180v1147q-65-62-170.5-124t-189.5-93v174q151 71 264 172t160 196h116z" fill="#0D0D0D"/>
<g clip-path="url(#p32)">
<path d="M551.36 522.13V617.05M605.45 522.13V617.05M659.54 522.13V617.05M515.66 604.15H708.08M515.66 586.98H708.08M515.66 569.8H708.08M515.66 552.62H708.08M515.66 535.45H708.08" stroke="#E5E5E5" stroke-width="1.42" fill="none"/>
<path d="M524.31 522.13V617.05M578.4 522.13V617.05M632.49 522.13V617.05M686.58 522.13V617.05M515.66 612.74H708.08M515.66 595.56H708.08M515.66 578.39H708.08M515.66 561.21H708.08M515.66 544.04H708.08M515.66 526.86H708.08" stroke="#E5E5E5" stroke-width="2.84" fill="none"/>
<path d="M524.33 591 L534 589.33 L540.67 591.83 L545.67 590.67 L549.83 592.67 L553.17 591 L557.33 594.33 L562.33 591 L567.33 592.33 L572.33 594.33 L579 598.5 L585.67 599.33 L589.83 601 L589.83 606 L579 604.33 L569 601.83 L559 602.67 L549 602.67 L539 601.33 L524.33 601.83Z" fill="#AFD5E3" fill-opacity="0.6"/>
<path d="M524.33 600.67 L537.33 600.17 L545.67 600.17 L550.67 596.83 L555.67 601.83 L562.33 601.33 L572.33 598.5 L577.33 600.17 L582.33 601.83 L587.33 599 L589.83 602.33" fill="none" stroke="#182749" stroke-opacity="0.55" stroke-width="5.0" stroke-linejoin="round" stroke-linecap="butt"/>
<path d="M524.33 597.33 L530.67 596.83 L537.33 596.33 L542.33 598.5 L547.33 597.33 L552.33 599.67 L557.33 600.67 L562.33 597.33 L567.33 599.33 L572.33 599.33 L577.33 603.5 L582.33 605.17 L585.67 604 L589 604.33" fill="none" stroke="#1DC653" stroke-width="5.0" stroke-linejoin="round" stroke-linecap="butt"/>
</g>
<rect x="516.37" y="522.84" width="191" height="93.5" fill="none" stroke="#2D2D2D" stroke-width="1.42"/>
<rect x="516.37" y="478.16" width="191" height="43.26" fill="#D1D1D1" stroke="#2D2D2D" stroke-width="1.42"/>
<text transform="translate(565.93 508.74) scale(1 1.04)" font-size="23.6" fill="#0D0D0D">32020 6</text><path transform="translate(631.56 508.74) scale(0.011523 -0.011523)" d="M763 0h-180v1147q-65-62-170.5-124t-189.5-93v174q151 71 264 172t160 196h116z" fill="#0D0D0D"/>
<g clip-path="url(#p33)">
<path d="M758.43 522.13V617.05M812.52 522.13V617.05M866.62 522.13V617.05M722.74 604.15H915.16M722.74 586.98H915.16M722.74 569.8H915.16M722.74 552.62H915.16M722.74 535.45H915.16" stroke="#E5E5E5" stroke-width="1.42" fill="none"/>
<path d="M731.39 522.13V617.05M785.48 522.13V617.05M839.57 522.13V617.05M893.66 522.13V617.05M722.74 612.74H915.16M722.74 595.56H915.16M722.74 578.39H915.16M722.74 561.21H915.16M722.74 544.04H915.16M722.74 526.86H915.16" stroke="#E5E5E5" stroke-width="2.84" fill="none"/>
<path d="M731.33 589.33 L737.67 583.5 L742.67 579.33 L749.33 571 L756 562.67 L762.67 549.33 L767.67 551.83 L771 557.67 L776 555.17 L779.33 556 L782.67 553.5 L786 548.5 L789.33 552.67 L796 557.67 L804.33 566 L812.67 569 L819.33 571.83 L826 573.5 L832.67 575.17 L839.33 577.67 L846 579.33 L851 580.17 L854.33 576.83 L859.33 584.33 L866 587.67 L874.33 589.33 L882.67 591.83 L889.33 593.5 L896 595.67 L902.67 597.67 L902.67 604 L894.33 601.83 L886 600.17 L876 599.67 L866 599.33 L856 597.67 L846 596 L836 595.17 L826 593.5 L819.33 591.83 L809.33 589.33 L802.67 587.67 L796 586 L789.33 582.67 L784.33 581 L779.33 586 L774.33 585.17 L769.33 586.83 L764.33 583.5 L759.33 586 L752.67 589.33 L746 592.67 L737.67 598.5 L731.33 600.17Z" fill="#AFD5E3" fill-opacity="0.6"/>
<path d="M731.33 593.5 L739.33 584.33 L744.33 576 L750.17 566 L756 568.5 L761 571.83 L766 572.33 L772.67 568.5 L779.33 568 L784.33 571 L789.33 576 L794.33 578.5 L802.67 580.17 L809.33 581.83 L819.33 581.83 L826 584.33 L832.67 587.67 L839.33 591 L846 590.17 L852.67 594.33 L859.33 597.67 L869.33 598.5 L879.33 597.67 L886 594.67 L892.67 597.67 L897.67 602.67 L902.67 603.5" fill="none" stroke="#182749" stroke-opacity="0.55" stroke-width="5.0" stroke-linejoin="round" stroke-linecap="butt"/>
<path d="M731.33 595.17 L737.67 592.67 L742.67 587.67 L748.5 581.83 L752.67 579.33 L757.67 576.83 L761 571 L764.33 567.67 L767.67 571 L770.17 575.17 L774.33 573 L777.67 572.33 L780.17 574 L782.67 571 L786 568.5 L789.33 571 L794.33 573.5 L799.33 577.67 L802.67 578.5 L809.33 581.83 L816 582.33 L822.67 585.17 L827.67 585.67 L832.67 587.33 L839.33 589.67 L846 590.17 L851 591.83 L854.33 587.67 L859.33 591.83 L864.33 595.17 L871 596 L877.67 597.17 L882.67 597.33 L887.67 597.67 L892.67 599.67 L897.67 601 L902.67 602.33" fill="none" stroke="#1DC653" stroke-width="5.0" stroke-linejoin="round" stroke-linecap="butt"/>
</g>
<rect x="723.45" y="522.84" width="191" height="93.5" fill="none" stroke="#2D2D2D" stroke-width="1.42"/>
<rect x="723.45" y="478.16" width="191" height="43.26" fill="#D1D1D1" stroke="#2D2D2D" stroke-width="1.42"/>
<text transform="translate(773.01 508.74) scale(1 1.04)" font-size="23.6" fill="#0D0D0D">36 20 5</text><path transform="translate(799.26 508.74) scale(0.011523 -0.011523)" d="M763 0h-180v1147q-65-62-170.5-124t-189.5-93v174q151 71 264 172t160 196h116z" fill="#0D0D0D"/><path transform="translate(838.64 508.74) scale(0.011523 -0.011523)" d="M763 0h-180v1147q-65-62-170.5-124t-189.5-93v174q151 71 264 172t160 196h116z" fill="#0D0D0D"/>
<g clip-path="url(#p34)">
<path d="M965.51 522.13V617.05M1019.61 522.13V617.05M1073.7 522.13V617.05M929.82 604.15H1122.24M929.82 586.98H1122.24M929.82 569.8H1122.24M929.82 552.62H1122.24M929.82 535.45H1122.24" stroke="#E5E5E5" stroke-width="1.42" fill="none"/>
<path d="M938.47 522.13V617.05M992.56 522.13V617.05M1046.65 522.13V617.05M1100.74 522.13V617.05M929.82 612.74H1122.24M929.82 595.56H1122.24M929.82 578.39H1122.24M929.82 561.21H1122.24M929.82 544.04H1122.24M929.82 526.86H1122.24" stroke="#E5E5E5" stroke-width="2.84" fill="none"/>
<path d="M938.33 583.5 L944.67 582.67 L949.67 576 L954.67 572.67 L958 576 L964.67 573 L969.67 576 L974.67 576.83 L979.67 576.83 L984.67 577.67 L989.67 584.33 L996.33 591 L1003 597.67 L1009.67 601.83 L1009.67 606.83 L998 601.83 L989.67 597.67 L983 595.17 L973 595.67 L966.33 596 L956.33 595.17 L948 596 L938.33 598.5Z" fill="#AFD5E3" fill-opacity="0.6"/>
<path d="M938.33 590.17 L944.67 586.83 L951.33 583.5 L956.33 583.5 L963 583.5 L966.33 579.33 L970.5 573.5 L974.67 577.67 L979.67 582.67 L984.67 589.33 L989.67 597.67 L996.33 601.83 L1003 604.33 L1008.83 606.83" fill="none" stroke="#182749" stroke-opacity="0.55" stroke-width="5.0" stroke-linejoin="round" stroke-linecap="butt"/>
<path d="M938.33 591.83 L943 592.33 L948 588.5 L953 585.17 L956.33 585.67 L958.83 588 L964.67 585.17 L971.33 589.67 L976.33 587.67 L981.33 587.33 L984.67 588.5 L989.67 592.67 L996.33 596 L1003 600.17 L1009.67 604" fill="none" stroke="#1DC653" stroke-width="5.0" stroke-linejoin="round" stroke-linecap="butt"/>
</g>
<rect x="930.53" y="522.84" width="191" height="93.5" fill="none" stroke="#2D2D2D" stroke-width="1.42"/>
<rect x="930.53" y="478.16" width="191" height="43.26" fill="#D1D1D1" stroke="#2D2D2D" stroke-width="1.42"/>
<text transform="translate(980.09 508.74) scale(1 1.04)" font-size="23.6" fill="#0D0D0D">38 20 4</text><path transform="translate(1006.34 508.74) scale(0.011523 -0.011523)" d="M763 0h-180v1147q-65-62-170.5-124t-189.5-93v174q151 71 264 172t160 196h116z" fill="#0D0D0D"/><path transform="translate(1045.72 508.74) scale(0.011523 -0.011523)" d="M763 0h-180v1147q-65-62-170.5-124t-189.5-93v174q151 71 264 172t160 196h116z" fill="#0D0D0D"/>
<g clip-path="url(#p35)">
<path d="M1172.6 522.13V617.05M1226.69 522.13V617.05M1280.78 522.13V617.05M1136.9 604.15H1329.32M1136.9 586.98H1329.32M1136.9 569.8H1329.32M1136.9 552.62H1329.32M1136.9 535.45H1329.32" stroke="#E5E5E5" stroke-width="1.42" fill="none"/>
<path d="M1145.55 522.13V617.05M1199.64 522.13V617.05M1253.73 522.13V617.05M1307.82 522.13V617.05M1136.9 612.74H1329.32M1136.9 595.56H1329.32M1136.9 578.39H1329.32M1136.9 561.21H1329.32M1136.9 544.04H1329.32M1136.9 526.86H1329.32" stroke="#E5E5E5" stroke-width="2.84" fill="none"/>
<path d="M1145.83 586.83 L1148.67 587.67 L1148.67 600.67 L1145.83 600.67Z" fill="#AFD5E3" fill-opacity="0.6"/>
<path d="M1145.83 596.83 L1148.67 597.33" fill="none" stroke="#182749" stroke-opacity="0.55" stroke-width="5.0" stroke-linejoin="round" stroke-linecap="butt"/>
<path d="M1145.83 594 L1148.67 595" fill="none" stroke="#1DC653" stroke-width="5.0" stroke-linejoin="round" stroke-linecap="butt"/>
</g>
<rect x="1137.61" y="522.84" width="191" height="93.5" fill="none" stroke="#2D2D2D" stroke-width="1.42"/>
<rect x="1137.61" y="478.16" width="191" height="43.26" fill="#D1D1D1" stroke="#2D2D2D" stroke-width="1.42"/>
<text transform="translate(1187.17 508.74) scale(1 1.04)" font-size="23.6" fill="#0D0D0D">40 20 6</text><path transform="translate(1213.42 508.74) scale(0.011523 -0.011523)" d="M763 0h-180v1147q-65-62-170.5-124t-189.5-93v174q151 71 264 172t160 196h116z" fill="#0D0D0D"/><path transform="translate(1252.8 508.74) scale(0.011523 -0.011523)" d="M763 0h-180v1147q-65-62-170.5-124t-189.5-93v174q151 71 264 172t160 196h116z" fill="#0D0D0D"/>
<g clip-path="url(#p40)">
<path d="M137.19 676.39V771.31M191.29 676.39V771.31M245.38 676.39V771.31M101.5 758.41H293.92M101.5 741.24H293.92M101.5 724.06H293.92M101.5 706.88H293.92M101.5 689.71H293.92" stroke="#E5E5E5" stroke-width="1.42" fill="none"/>
<path d="M110.15 676.39V771.31M164.24 676.39V771.31M218.33 676.39V771.31M272.42 676.39V771.31M101.5 767H293.92M101.5 749.82H293.92M101.5 732.65H293.92M101.5 715.47H293.92M101.5 698.3H293.92M101.5 681.12H293.92" stroke="#E5E5E5" stroke-width="2.84" fill="none"/>
<path d="M110.33 736.67 L116.67 728.67 L125 730.83 L131.67 732.5 L139.17 729.17 L143.33 741.67 L148.33 741.67 L153.33 745.83 L158.33 750 L165 751.67 L171.67 753.33 L178.33 752.5 L187.5 757.5 L187.5 760.83 L171.67 759.67 L161.67 758.33 L151.67 755 L143.33 755 L138.33 750 L128.33 750 L116.67 749.17 L110.33 749.17Z" fill="#AFD5E3" fill-opacity="0.6"/>
<path d="M110.33 749.17 L116.67 745.83 L125 747.5 L133.33 747.5 L138.33 747.5 L143.33 751.67 L150 754.17 L156.67 756.67 L163.33 753.33 L168.33 756.67 L175 760 L181.67 759.17 L187.5 758.33" fill="none" stroke="#182749" stroke-opacity="0.55" stroke-width="5.0" stroke-linejoin="round" stroke-linecap="butt"/>
<path d="M110.33 743.67 L116.67 739.67 L123.33 740.83 L130 742.83 L135 742 L139.17 740 L142.5 747 L148.33 749.17 L155 752 L161.67 755 L168.33 757.5 L173.33 756.33 L180 756.67 L187.5 760" fill="none" stroke="#1DC653" stroke-width="5.0" stroke-linejoin="round" stroke-linecap="butt"/>
</g>
<rect x="102.21" y="677.1" width="191" height="93.5" fill="none" stroke="#2D2D2D" stroke-width="1.42"/>
<rect x="102.21" y="632.42" width="191" height="43.26" fill="#D1D1D1" stroke="#2D2D2D" stroke-width="1.42"/>
<text transform="translate(151.77 663) scale(1 1.04)" font-size="23.6" fill="#0D0D0D">47 20 4</text><path transform="translate(178.02 663) scale(0.011523 -0.011523)" d="M763 0h-180v1147q-65-62-170.5-124t-189.5-93v174q151 71 264 172t160 196h116z" fill="#0D0D0D"/><path transform="translate(217.4 663) scale(0.011523 -0.011523)" d="M763 0h-180v1147q-65-62-170.5-124t-189.5-93v174q151 71 264 172t160 196h116z" fill="#0D0D0D"/>
<g clip-path="url(#p41)">
<path d="M344.28 676.39V771.31M398.37 676.39V771.31M452.46 676.39V771.31M308.58 758.41H501M308.58 741.24H501M308.58 724.06H501M308.58 706.88H501M308.58 689.71H501" stroke="#E5E5E5" stroke-width="1.42" fill="none"/>
<path d="M317.23 676.39V771.31M371.32 676.39V771.31M425.41 676.39V771.31M479.5 676.39V771.31M308.58 767H501M308.58 749.82H501M308.58 732.65H501M308.58 715.47H501M308.58 698.3H501M308.58 681.12H501" stroke="#E5E5E5" stroke-width="2.84" fill="none"/>
<path d="M317.33 740.83 L323.67 735.83 L330.33 734.67 L336.17 733.67 L340.33 737.5 L343.67 738.33 L345.33 745 L355.67 754.17 L355.67 759.17 L343.67 754.17 L337 750 L330.33 749.67 L323.67 751.67 L317.33 754.17Z" fill="#AFD5E3" fill-opacity="0.6"/>
<path d="M317.33 750 L323.67 746.67 L330.33 741.33 L337 744.17 L342 748.33 L347 751.67 L355.67 755.33" fill="none" stroke="#182749" stroke-opacity="0.55" stroke-width="5.0" stroke-linejoin="round" stroke-linecap="butt"/>
<path d="M317.33 748.33 L323.67 745 L330.33 743.33 L335.33 744.17 L337.83 742.83 L342 745.33 L346.17 755 L350.33 756.67 L355.67 758" fill="none" stroke="#1DC653" stroke-width="5.0" stroke-linejoin="round" stroke-linecap="butt"/>
</g>
<rect x="309.29" y="677.1" width="191" height="93.5" fill="none" stroke="#2D2D2D" stroke-width="1.42"/>
<rect x="309.29" y="632.42" width="191" height="43.26" fill="#D1D1D1" stroke="#2D2D2D" stroke-width="1.42"/>
<text transform="translate(358.85 663) scale(1 1.04)" font-size="23.6" fill="#0D0D0D">48 20 5</text><path transform="translate(385.1 663) scale(0.011523 -0.011523)" d="M763 0h-180v1147q-65-62-170.5-124t-189.5-93v174q151 71 264 172t160 196h116z" fill="#0D0D0D"/><path transform="translate(424.48 663) scale(0.011523 -0.011523)" d="M763 0h-180v1147q-65-62-170.5-124t-189.5-93v174q151 71 264 172t160 196h116z" fill="#0D0D0D"/>
<g clip-path="url(#p42)">
<path d="M551.36 676.39V771.31M605.45 676.39V771.31M659.54 676.39V771.31M515.66 758.41H708.08M515.66 741.24H708.08M515.66 724.06H708.08M515.66 706.88H708.08M515.66 689.71H708.08" stroke="#E5E5E5" stroke-width="1.42" fill="none"/>
<path d="M524.31 676.39V771.31M578.4 676.39V771.31M632.49 676.39V771.31M686.58 676.39V771.31M515.66 767H708.08M515.66 749.82H708.08M515.66 732.65H708.08M515.66 715.47H708.08M515.66 698.3H708.08M515.66 681.12H708.08" stroke="#E5E5E5" stroke-width="2.84" fill="none"/>
<path d="M523 742.83 L534.17 738.67 L538.33 741.67 L543.33 744.17 L548.33 748.33 L556.67 755 L556.67 759.5 L550.33 759.5 L544.17 756.67 L540 755.83 L534.17 754.17 L529.5 754.17 L524.17 755.83Z" fill="#AFD5E3" fill-opacity="0.6"/>
<path d="M524 744.67 L529 740.83 L534.17 738.33 L540 742.5 L543.67 748.67 L548.33 754.17 L556.33 760.5" fill="none" stroke="#182749" stroke-opacity="0.55" stroke-width="5.0" stroke-linejoin="round" stroke-linecap="butt"/>
<path d="M523.67 749.17 L527 746.67 L530.33 749.5 L534.17 745.83 L538.33 749.5 L544.17 750.83 L549.17 753.67 L556.33 758.33" fill="none" stroke="#1DC653" stroke-width="5.0" stroke-linejoin="round" stroke-linecap="butt"/>
</g>
<rect x="516.37" y="677.1" width="191" height="93.5" fill="none" stroke="#2D2D2D" stroke-width="1.42"/>
<rect x="516.37" y="632.42" width="191" height="43.26" fill="#D1D1D1" stroke="#2D2D2D" stroke-width="1.42"/>
<text transform="translate(565.93 663) scale(1 1.04)" font-size="23.6" fill="#0D0D0D">49 20 6</text><path transform="translate(592.18 663) scale(0.011523 -0.011523)" d="M763 0h-180v1147q-65-62-170.5-124t-189.5-93v174q151 71 264 172t160 196h116z" fill="#0D0D0D"/><path transform="translate(631.56 663) scale(0.011523 -0.011523)" d="M763 0h-180v1147q-65-62-170.5-124t-189.5-93v174q151 71 264 172t160 196h116z" fill="#0D0D0D"/>
<g clip-path="url(#p43)">
<path d="M758.43 676.39V771.31M812.52 676.39V771.31M866.62 676.39V771.31M722.74 758.41H915.16M722.74 741.24H915.16M722.74 724.06H915.16M722.74 706.88H915.16M722.74 689.71H915.16" stroke="#E5E5E5" stroke-width="1.42" fill="none"/>
<path d="M731.39 676.39V771.31M785.48 676.39V771.31M839.57 676.39V771.31M893.66 676.39V771.31M722.74 767H915.16M722.74 749.82H915.16M722.74 732.65H915.16M722.74 715.47H915.16M722.74 698.3H915.16M722.74 681.12H915.16" stroke="#E5E5E5" stroke-width="2.84" fill="none"/>
<path d="M731.33 749.17 L741 746.67 L747.67 744.17 L756 746.67 L762.67 746.67 L767.67 745.83 L774.33 748.33 L781 749.67 L786 752.5 L792.67 754.17 L799.33 755.83 L799.33 760 L792.67 759.67 L782.67 758.33 L772.67 756.67 L762.67 755.33 L752.67 755.83 L744.33 755.83 L731.33 757.5Z" fill="#AFD5E3" fill-opacity="0.6"/>
<path d="M731.33 751.67 L739.33 748.33 L747.67 745 L754.33 745.33 L761 748 L766 749.67 L772.67 752.5 L779.33 757.5 L786 759.17 L792.67 759.17 L799.33 758.33" fill="none" stroke="#182749" stroke-opacity="0.55" stroke-width="5.0" stroke-linejoin="round" stroke-linecap="butt"/>
<path d="M731.33 754.67 L737.67 753.33 L744.33 753.67 L747.67 750 L752.67 751.33 L759.33 751.67 L766 753.33 L772.67 754.17 L779.33 755.83 L786 755.83 L792.67 757.5 L799.33 758.33" fill="none" stroke="#1DC653" stroke-width="5.0" stroke-linejoin="round" stroke-linecap="butt"/>
</g>
<rect x="723.45" y="677.1" width="191" height="93.5" fill="none" stroke="#2D2D2D" stroke-width="1.42"/>
<rect x="723.45" y="632.42" width="191" height="43.26" fill="#D1D1D1" stroke="#2D2D2D" stroke-width="1.42"/>
<text transform="translate(773.01 663) scale(1 1.04)" font-size="23.6" fill="#0D0D0D">5  20 5</text><path transform="translate(786.14 663) scale(0.011523 -0.011523)" d="M763 0h-180v1147q-65-62-170.5-124t-189.5-93v174q151 71 264 172t160 196h116z" fill="#0D0D0D"/><path transform="translate(799.26 663) scale(0.011523 -0.011523)" d="M763 0h-180v1147q-65-62-170.5-124t-189.5-93v174q151 71 264 172t160 196h116z" fill="#0D0D0D"/><path transform="translate(838.64 663) scale(0.011523 -0.011523)" d="M763 0h-180v1147q-65-62-170.5-124t-189.5-93v174q151 71 264 172t160 196h116z" fill="#0D0D0D"/>
<g clip-path="url(#p44)">
<path d="M965.51 676.39V771.31M1019.61 676.39V771.31M1073.7 676.39V771.31M929.82 758.41H1122.24M929.82 741.24H1122.24M929.82 724.06H1122.24M929.82 706.88H1122.24M929.82 689.71H1122.24" stroke="#E5E5E5" stroke-width="1.42" fill="none"/>
<path d="M938.47 676.39V771.31M992.56 676.39V771.31M1046.65 676.39V771.31M1100.74 676.39V771.31M929.82 767H1122.24M929.82 749.82H1122.24M929.82 732.65H1122.24M929.82 715.47H1122.24M929.82 698.3H1122.24M929.82 681.12H1122.24" stroke="#E5E5E5" stroke-width="2.84" fill="none"/>
<path d="M938.33 748.33 L942.17 738 L946.33 740 L953 737.5 L958.83 735 L963 725 L967.17 718.33 L971.33 723.33 L974.67 723.33 L979.67 730.83 L983 740 L989.67 748.33 L996.33 751.67 L1003 753.33 L1009.67 755 L1018.83 758 L1018.83 760.83 L1006.33 759.17 L998 758 L989.67 755 L983 751.67 L978 745.83 L973 745 L966.33 743.33 L959.67 745.83 L953 750 L946.33 754.17 L938.33 755Z" fill="#AFD5E3" fill-opacity="0.6"/>
<path d="M938.33 754.17 L944.67 752.5 L951.33 749.17 L958 743.33 L963 735 L967.67 726.67 L971.33 731.67 L974.67 740 L979.67 745.83 L986.33 749.17 L993 751.67 L999.67 754.17 L1006.33 755.33 L1013 757 L1018.83 759.17" fill="none" stroke="#182749" stroke-opacity="0.55" stroke-width="5.0" stroke-linejoin="round" stroke-linecap="butt"/>
<path d="M938.33 751.67 L942.17 746.67 L945.5 748 L951.33 745.83 L956.33 743.67 L961.33 740.83 L964.67 735.83 L967.67 732.5 L970.5 736.67 L973.83 736.67 L978 740.83 L983 745.83 L986.33 748.33 L991.33 751.67 L996.33 754.17 L1001.33 756.33 L1006.33 756.33 L1013 758 L1018.83 759.67" fill="none" stroke="#1DC653" stroke-width="5.0" stroke-linejoin="round" stroke-linecap="butt"/>
</g>
<rect x="930.53" y="677.1" width="191" height="93.5" fill="none" stroke="#2D2D2D" stroke-width="1.42"/>
<rect x="930.53" y="632.42" width="191" height="43.26" fill="#D1D1D1" stroke="#2D2D2D" stroke-width="1.42"/>
<text transform="translate(980.09 663) scale(1 1.04)" font-size="23.6" fill="#0D0D0D">53 20 4</text><path transform="translate(1006.34 663) scale(0.011523 -0.011523)" d="M763 0h-180v1147q-65-62-170.5-124t-189.5-93v174q151 71 264 172t160 196h116z" fill="#0D0D0D"/><path transform="translate(1045.72 663) scale(0.011523 -0.011523)" d="M763 0h-180v1147q-65-62-170.5-124t-189.5-93v174q151 71 264 172t160 196h116z" fill="#0D0D0D"/>
<g clip-path="url(#p45)">
<path d="M1172.6 676.39V771.31M1226.69 676.39V771.31M1280.78 676.39V771.31M1136.9 758.41H1329.32M1136.9 741.24H1329.32M1136.9 724.06H1329.32M1136.9 706.88H1329.32M1136.9 689.71H1329.32" stroke="#E5E5E5" stroke-width="1.42" fill="none"/>
<path d="M1145.55 676.39V771.31M1199.64 676.39V771.31M1253.73 676.39V771.31M1307.82 676.39V771.31M1136.9 767H1329.32M1136.9 749.82H1329.32M1136.9 732.65H1329.32M1136.9 715.47H1329.32M1136.9 698.3H1329.32M1136.9 681.12H1329.32" stroke="#E5E5E5" stroke-width="2.84" fill="none"/>
<path d="M1145.83 754.17 L1151.67 748.33 L1156.67 725 L1161.67 717.5 L1165 710 L1171.67 710 L1176.67 714.17 L1181.67 714.67 L1185.83 723.33 L1188.33 730 L1193.33 745 L1198.33 753.33 L1206.67 758.33 L1206.67 760.83 L1200 757.5 L1193.33 753.33 L1188.33 743.33 L1183.33 740 L1176.67 742 L1168.33 740.83 L1161.67 741.67 L1156.67 748.33 L1151.67 753.33 L1145.83 755.83Z" fill="#AFD5E3" fill-opacity="0.6"/>
<path d="M1145 745 L1151.67 738.33 L1158.33 733.33 L1163.33 726.67 L1168.33 721.67 L1173.33 722.5 L1178.33 727.5 L1183.33 736.67 L1190 746.67 L1196.67 752.5 L1206.67 758.33" fill="none" stroke="#182749" stroke-opacity="0.55" stroke-width="5.0" stroke-linejoin="round" stroke-linecap="butt"/>
<path d="M1145.83 753.83 L1149.17 751.33 L1152.5 754.67 L1155.83 743.33 L1159.17 734.17 L1162.5 731.67 L1166.67 727 L1171.67 727.17 L1176.67 729.17 L1180 730.83 L1185 732.5 L1188.33 738.33 L1193.33 751.67 L1200 755.83 L1206.67 760" fill="none" stroke="#1DC653" stroke-width="5.0" stroke-linejoin="round" stroke-linecap="butt"/>
</g>
<rect x="1137.61" y="677.1" width="191" height="93.5" fill="none" stroke="#2D2D2D" stroke-width="1.42"/>
<rect x="1137.61" y="632.42" width="191" height="43.26" fill="#D1D1D1" stroke="#2D2D2D" stroke-width="1.42"/>
<text transform="translate(1187.17 663) scale(1 1.04)" font-size="23.6" fill="#0D0D0D">58 20 6</text><path transform="translate(1213.42 663) scale(0.011523 -0.011523)" d="M763 0h-180v1147q-65-62-170.5-124t-189.5-93v174q151 71 264 172t160 196h116z" fill="#0D0D0D"/><path transform="translate(1252.8 663) scale(0.011523 -0.011523)" d="M763 0h-180v1147q-65-62-170.5-124t-189.5-93v174q151 71 264 172t160 196h116z" fill="#0D0D0D"/>
<text transform="translate(74.77 158.26) scale(1 1.04)" font-size="23.6" fill="#383838">0</text>
<text transform="translate(61.65 141.08) scale(1 1.04)" font-size="23.6" fill="#383838">50</text>
<text transform="translate(48.52 123.91) scale(1 1.04)" font-size="23.6" fill="#383838"> 00</text><path transform="translate(48.52 123.91) scale(0.011523 -0.011523)" d="M763 0h-180v1147q-65-62-170.5-124t-189.5-93v174q151 71 264 172t160 196h116z" fill="#383838"/>
<text transform="translate(48.52 106.73) scale(1 1.04)" font-size="23.6" fill="#383838"> 50</text><path transform="translate(48.52 106.73) scale(0.011523 -0.011523)" d="M763 0h-180v1147q-65-62-170.5-124t-189.5-93v174q151 71 264 172t160 196h116z" fill="#383838"/>
<text transform="translate(48.52 89.56) scale(1 1.04)" font-size="23.6" fill="#383838">200</text>
<text transform="translate(48.52 72.38) scale(1 1.04)" font-size="23.6" fill="#383838">250</text>
<path d="M94.17 149.96H101.5M94.17 132.78H101.5M94.17 115.61H101.5M94.17 98.43H101.5M94.17 81.26H101.5M94.17 64.08H101.5" stroke="#1F1F1F" stroke-width="2.84"/>
<text transform="translate(74.77 312.52) scale(1 1.04)" font-size="23.6" fill="#383838">0</text>
<text transform="translate(61.65 295.34) scale(1 1.04)" font-size="23.6" fill="#383838">50</text>
<text transform="translate(48.52 278.17) scale(1 1.04)" font-size="23.6" fill="#383838"> 00</text><path transform="translate(48.52 278.17) scale(0.011523 -0.011523)" d="M763 0h-180v1147q-65-62-170.5-124t-189.5-93v174q151 71 264 172t160 196h116z" fill="#383838"/>
<text transform="translate(48.52 260.99) scale(1 1.04)" font-size="23.6" fill="#383838"> 50</text><path transform="translate(48.52 260.99) scale(0.011523 -0.011523)" d="M763 0h-180v1147q-65-62-170.5-124t-189.5-93v174q151 71 264 172t160 196h116z" fill="#383838"/>
<text transform="translate(48.52 243.82) scale(1 1.04)" font-size="23.6" fill="#383838">200</text>
<text transform="translate(48.52 226.64) scale(1 1.04)" font-size="23.6" fill="#383838">250</text>
<path d="M94.17 304.22H101.5M94.17 287.04H101.5M94.17 269.87H101.5M94.17 252.69H101.5M94.17 235.52H101.5M94.17 218.34H101.5" stroke="#1F1F1F" stroke-width="2.84"/>
<text transform="translate(74.77 466.78) scale(1 1.04)" font-size="23.6" fill="#383838">0</text>
<text transform="translate(61.65 449.6) scale(1 1.04)" font-size="23.6" fill="#383838">50</text>
<text transform="translate(48.52 432.43) scale(1 1.04)" font-size="23.6" fill="#383838"> 00</text><path transform="translate(48.52 432.43) scale(0.011523 -0.011523)" d="M763 0h-180v1147q-65-62-170.5-124t-189.5-93v174q151 71 264 172t160 196h116z" fill="#383838"/>
<text transform="translate(48.52 415.25) scale(1 1.04)" font-size="23.6" fill="#383838"> 50</text><path transform="translate(48.52 415.25) scale(0.011523 -0.011523)" d="M763 0h-180v1147q-65-62-170.5-124t-189.5-93v174q151 71 264 172t160 196h116z" fill="#383838"/>
<text transform="translate(48.52 398.08) scale(1 1.04)" font-size="23.6" fill="#383838">200</text>
<text transform="translate(48.52 380.9) scale(1 1.04)" font-size="23.6" fill="#383838">250</text>
<path d="M94.17 458.48H101.5M94.17 441.3H101.5M94.17 424.13H101.5M94.17 406.95H101.5M94.17 389.78H101.5M94.17 372.6H101.5" stroke="#1F1F1F" stroke-width="2.84"/>
<text transform="translate(74.77 621.04) scale(1 1.04)" font-size="23.6" fill="#383838">0</text>
<text transform="translate(61.65 603.86) scale(1 1.04)" font-size="23.6" fill="#383838">50</text>
<text transform="translate(48.52 586.69) scale(1 1.04)" font-size="23.6" fill="#383838"> 00</text><path transform="translate(48.52 586.69) scale(0.011523 -0.011523)" d="M763 0h-180v1147q-65-62-170.5-124t-189.5-93v174q151 71 264 172t160 196h116z" fill="#383838"/>
<text transform="translate(48.52 569.51) scale(1 1.04)" font-size="23.6" fill="#383838"> 50</text><path transform="translate(48.52 569.51) scale(0.011523 -0.011523)" d="M763 0h-180v1147q-65-62-170.5-124t-189.5-93v174q151 71 264 172t160 196h116z" fill="#383838"/>
<text transform="translate(48.52 552.34) scale(1 1.04)" font-size="23.6" fill="#383838">200</text>
<text transform="translate(48.52 535.16) scale(1 1.04)" font-size="23.6" fill="#383838">250</text>
<path d="M94.17 612.74H101.5M94.17 595.56H101.5M94.17 578.39H101.5M94.17 561.21H101.5M94.17 544.04H101.5M94.17 526.86H101.5" stroke="#1F1F1F" stroke-width="2.84"/>
<text transform="translate(74.77 775.3) scale(1 1.04)" font-size="23.6" fill="#383838">0</text>
<text transform="translate(61.65 758.12) scale(1 1.04)" font-size="23.6" fill="#383838">50</text>
<text transform="translate(48.52 740.95) scale(1 1.04)" font-size="23.6" fill="#383838"> 00</text><path transform="translate(48.52 740.95) scale(0.011523 -0.011523)" d="M763 0h-180v1147q-65-62-170.5-124t-189.5-93v174q151 71 264 172t160 196h116z" fill="#383838"/>
<text transform="translate(48.52 723.77) scale(1 1.04)" font-size="23.6" fill="#383838"> 50</text><path transform="translate(48.52 723.77) scale(0.011523 -0.011523)" d="M763 0h-180v1147q-65-62-170.5-124t-189.5-93v174q151 71 264 172t160 196h116z" fill="#383838"/>
<text transform="translate(48.52 706.6) scale(1 1.04)" font-size="23.6" fill="#383838">200</text>
<text transform="translate(48.52 689.42) scale(1 1.04)" font-size="23.6" fill="#383838">250</text>
<path d="M94.17 767H101.5M94.17 749.82H101.5M94.17 732.65H101.5M94.17 715.47H101.5M94.17 698.3H101.5M94.17 681.12H101.5" stroke="#1F1F1F" stroke-width="2.84"/>
<text transform="translate(103.59 801.9) scale(1 1.04)" font-size="23.6" fill="#383838">0</text>
<text transform="translate(144.55 801.9) scale(1 1.04)" font-size="23.6" fill="#383838"> 00</text><path transform="translate(144.55 801.9) scale(0.011523 -0.011523)" d="M763 0h-180v1147q-65-62-170.5-124t-189.5-93v174q151 71 264 172t160 196h116z" fill="#383838"/>
<text transform="translate(198.64 801.9) scale(1 1.04)" font-size="23.6" fill="#383838">200</text>
<text transform="translate(252.73 801.9) scale(1 1.04)" font-size="23.6" fill="#383838">300</text>
<path d="M110.15 771.31V778.64M164.24 771.31V778.64M218.33 771.31V778.64M272.42 771.31V778.64" stroke="#1F1F1F" stroke-width="2.84"/>
<text transform="translate(310.67 801.9) scale(1 1.04)" font-size="23.6" fill="#383838">0</text>
<text transform="translate(351.63 801.9) scale(1 1.04)" font-size="23.6" fill="#383838"> 00</text><path transform="translate(351.63 801.9) scale(0.011523 -0.011523)" d="M763 0h-180v1147q-65-62-170.5-124t-189.5-93v174q151 71 264 172t160 196h116z" fill="#383838"/>
<text transform="translate(405.72 801.9) scale(1 1.04)" font-size="23.6" fill="#383838">200</text>
<text transform="translate(459.81 801.9) scale(1 1.04)" font-size="23.6" fill="#383838">300</text>
<path d="M317.23 771.31V778.64M371.32 771.31V778.64M425.41 771.31V778.64M479.5 771.31V778.64" stroke="#1F1F1F" stroke-width="2.84"/>
<text transform="translate(517.75 801.9) scale(1 1.04)" font-size="23.6" fill="#383838">0</text>
<text transform="translate(558.71 801.9) scale(1 1.04)" font-size="23.6" fill="#383838"> 00</text><path transform="translate(558.71 801.9) scale(0.011523 -0.011523)" d="M763 0h-180v1147q-65-62-170.5-124t-189.5-93v174q151 71 264 172t160 196h116z" fill="#383838"/>
<text transform="translate(612.8 801.9) scale(1 1.04)" font-size="23.6" fill="#383838">200</text>
<text transform="translate(666.89 801.9) scale(1 1.04)" font-size="23.6" fill="#383838">300</text>
<path d="M524.31 771.31V778.64M578.4 771.31V778.64M632.49 771.31V778.64M686.58 771.31V778.64" stroke="#1F1F1F" stroke-width="2.84"/>
<text transform="translate(724.83 801.9) scale(1 1.04)" font-size="23.6" fill="#383838">0</text>
<text transform="translate(765.79 801.9) scale(1 1.04)" font-size="23.6" fill="#383838"> 00</text><path transform="translate(765.79 801.9) scale(0.011523 -0.011523)" d="M763 0h-180v1147q-65-62-170.5-124t-189.5-93v174q151 71 264 172t160 196h116z" fill="#383838"/>
<text transform="translate(819.88 801.9) scale(1 1.04)" font-size="23.6" fill="#383838">200</text>
<text transform="translate(873.97 801.9) scale(1 1.04)" font-size="23.6" fill="#383838">300</text>
<path d="M731.39 771.31V778.64M785.48 771.31V778.64M839.57 771.31V778.64M893.66 771.31V778.64" stroke="#1F1F1F" stroke-width="2.84"/>
<text transform="translate(931.91 801.9) scale(1 1.04)" font-size="23.6" fill="#383838">0</text>
<text transform="translate(972.87 801.9) scale(1 1.04)" font-size="23.6" fill="#383838"> 00</text><path transform="translate(972.87 801.9) scale(0.011523 -0.011523)" d="M763 0h-180v1147q-65-62-170.5-124t-189.5-93v174q151 71 264 172t160 196h116z" fill="#383838"/>
<text transform="translate(1026.96 801.9) scale(1 1.04)" font-size="23.6" fill="#383838">200</text>
<text transform="translate(1081.05 801.9) scale(1 1.04)" font-size="23.6" fill="#383838">300</text>
<path d="M938.47 771.31V778.64M992.56 771.31V778.64M1046.65 771.31V778.64M1100.74 771.31V778.64" stroke="#1F1F1F" stroke-width="2.84"/>
<text transform="translate(1138.99 801.9) scale(1 1.04)" font-size="23.6" fill="#383838">0</text>
<text transform="translate(1179.95 801.9) scale(1 1.04)" font-size="23.6" fill="#383838"> 00</text><path transform="translate(1179.95 801.9) scale(0.011523 -0.011523)" d="M763 0h-180v1147q-65-62-170.5-124t-189.5-93v174q151 71 264 172t160 196h116z" fill="#383838"/>
<text transform="translate(1234.04 801.9) scale(1 1.04)" font-size="23.6" fill="#383838">200</text>
<text transform="translate(1288.13 801.9) scale(1 1.04)" font-size="23.6" fill="#383838">300</text>
<path d="M1145.55 771.31V778.64M1199.64 771.31V778.64M1253.73 771.31V778.64M1307.82 771.31V778.64" stroke="#1F1F1F" stroke-width="2.84"/>
<text transform="translate(715.2 835.2) scale(1 1.04)" font-size="29.6" fill="#000" text-anchor="middle">Storm Elapsed Time</text>
<text transform="translate(35.5 416.4) rotate(-90) scale(1 1.04)" font-size="29.6" fill="#000" text-anchor="middle">VMAX</text>
<path d="M464.6 907.8H501.6" stroke="#182749" stroke-opacity="0.55" stroke-width="5.69"/>
<path d="M604.9 907.8H641.9" stroke="#1DC653" stroke-width="5.69"/>
<rect x="834.9" y="887" width="42" height="41.8" fill="#AFD5E3" fill-opacity="0.6"/>
<text transform="translate(520.6 916.7) scale(1 1.04)" font-size="23.6" fill="#000">Actual</text>
<text transform="translate(660.8 916.7) scale(1 1.04)" font-size="23.6" fill="#000">PPD Mean</text>
<text transform="translate(893.6 916.7) scale(1 1.04)" font-size="23.6" fill="#000">95% CI</text>
</svg></body></html>
